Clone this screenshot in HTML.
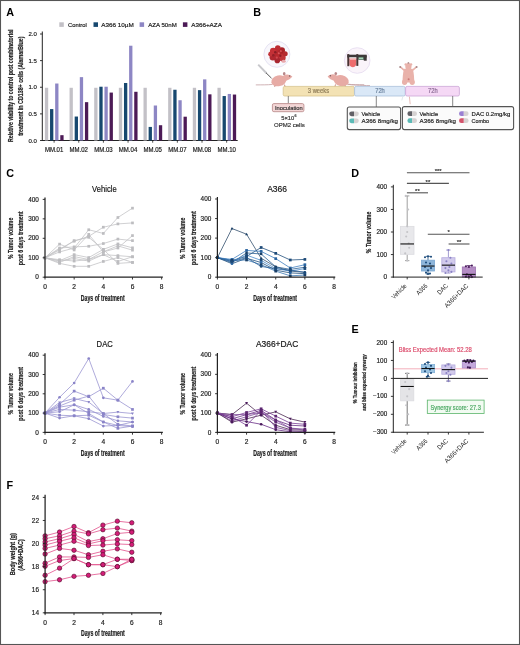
<!DOCTYPE html><html><head><meta charset="utf-8"><style>html,body{margin:0;padding:0;background:#fff;}body{width:520px;height:645px;position:relative;overflow:hidden;font-family:"Liberation Sans", sans-serif;}</style></head><body><svg width="520" height="645" viewBox="0 0 520 645" style="will-change:transform;position:absolute;left:0;top:0;font-family:'Liberation Sans', sans-serif">
<rect x="0" y="0" width="520" height="645" fill="#fff"/>
<text x="6.20" y="15.80" font-size="10.8" text-anchor="start" fill="#000" font-weight="bold">A</text>
<rect x="59.30" y="22.30" width="4.50" height="4.60" fill="#c2c0c6" stroke="none" stroke-width="0" rx="0"/>
<text x="68.00" y="27.00" font-size="6.1" text-anchor="start" fill="#1a1a1a" font-weight="normal" textLength="18.7" lengthAdjust="spacingAndGlyphs" stroke="#1a1a1a" stroke-width="0.18">Control</text>
<rect x="93.50" y="22.30" width="4.50" height="4.60" fill="#17486f" stroke="none" stroke-width="0" rx="0"/>
<text x="101.20" y="27.00" font-size="6.1" text-anchor="start" fill="#1a1a1a" font-weight="normal" textLength="32.6" lengthAdjust="spacingAndGlyphs" stroke="#1a1a1a" stroke-width="0.18">A366 10&#181;M</text>
<rect x="139.60" y="22.30" width="4.50" height="4.60" fill="#8d86c4" stroke="none" stroke-width="0" rx="0"/>
<text x="148.30" y="27.00" font-size="6.1" text-anchor="start" fill="#1a1a1a" font-weight="normal" textLength="28.4" lengthAdjust="spacingAndGlyphs" stroke="#1a1a1a" stroke-width="0.18">AZA 50nM</text>
<rect x="182.90" y="22.30" width="4.50" height="4.60" fill="#4c1a56" stroke="none" stroke-width="0" rx="0"/>
<text x="191.20" y="27.00" font-size="6.1" text-anchor="start" fill="#1a1a1a" font-weight="normal" textLength="30.7" lengthAdjust="spacingAndGlyphs" stroke="#1a1a1a" stroke-width="0.18">A366+AZA</text>
<line x1="42.30" y1="31.50" x2="42.30" y2="141.00" stroke="#222" stroke-width="1.0"/>
<line x1="41.80" y1="140.50" x2="237.70" y2="140.50" stroke="#222" stroke-width="1.0"/>
<line x1="40.00" y1="140.50" x2="42.30" y2="140.50" stroke="#222" stroke-width="0.9"/>
<text x="36.90" y="142.70" font-size="6.0" text-anchor="end" fill="#1a1a1a" font-weight="normal" textLength="8.4" lengthAdjust="spacingAndGlyphs" stroke="#1a1a1a" stroke-width="0.18">0.0</text>
<line x1="40.00" y1="113.88" x2="42.30" y2="113.88" stroke="#222" stroke-width="0.9"/>
<text x="36.90" y="116.08" font-size="6.0" text-anchor="end" fill="#1a1a1a" font-weight="normal" textLength="8.4" lengthAdjust="spacingAndGlyphs" stroke="#1a1a1a" stroke-width="0.18">0.5</text>
<line x1="40.00" y1="87.25" x2="42.30" y2="87.25" stroke="#222" stroke-width="0.9"/>
<text x="36.90" y="89.45" font-size="6.0" text-anchor="end" fill="#1a1a1a" font-weight="normal" textLength="8.4" lengthAdjust="spacingAndGlyphs" stroke="#1a1a1a" stroke-width="0.18">1.0</text>
<line x1="40.00" y1="60.62" x2="42.30" y2="60.62" stroke="#222" stroke-width="0.9"/>
<text x="36.90" y="62.83" font-size="6.0" text-anchor="end" fill="#1a1a1a" font-weight="normal" textLength="8.4" lengthAdjust="spacingAndGlyphs" stroke="#1a1a1a" stroke-width="0.18">1.5</text>
<line x1="40.00" y1="34.00" x2="42.30" y2="34.00" stroke="#222" stroke-width="0.9"/>
<text x="36.90" y="36.20" font-size="6.0" text-anchor="end" fill="#1a1a1a" font-weight="normal" textLength="8.4" lengthAdjust="spacingAndGlyphs" stroke="#1a1a1a" stroke-width="0.18">2.0</text>
<rect x="44.90" y="87.78" width="3.30" height="52.72" fill="#c3c1c7" stroke="none" stroke-width="0" rx="0"/>
<rect x="50.03" y="109.08" width="3.30" height="31.42" fill="#17486f" stroke="none" stroke-width="0" rx="0"/>
<rect x="55.16" y="83.52" width="3.30" height="56.98" fill="#8d86c4" stroke="none" stroke-width="0" rx="0"/>
<rect x="60.29" y="135.18" width="3.30" height="5.33" fill="#4c1a56" stroke="none" stroke-width="0" rx="0"/>
<line x1="54.10" y1="140.50" x2="54.10" y2="142.70" stroke="#222" stroke-width="0.8"/>
<text x="54.10" y="151.80" font-size="6.4" text-anchor="middle" fill="#1a1a1a" font-weight="normal" textLength="18.4" lengthAdjust="spacingAndGlyphs" stroke="#1a1a1a" stroke-width="0.18">MM.01</text>
<rect x="69.55" y="87.78" width="3.30" height="52.72" fill="#c3c1c7" stroke="none" stroke-width="0" rx="0"/>
<rect x="74.68" y="116.54" width="3.30" height="23.96" fill="#17486f" stroke="none" stroke-width="0" rx="0"/>
<rect x="79.81" y="77.13" width="3.30" height="63.37" fill="#8d86c4" stroke="none" stroke-width="0" rx="0"/>
<rect x="84.94" y="102.16" width="3.30" height="38.34" fill="#4c1a56" stroke="none" stroke-width="0" rx="0"/>
<line x1="78.75" y1="140.50" x2="78.75" y2="142.70" stroke="#222" stroke-width="0.8"/>
<text x="78.75" y="151.80" font-size="6.4" text-anchor="middle" fill="#1a1a1a" font-weight="normal" textLength="18.4" lengthAdjust="spacingAndGlyphs" stroke="#1a1a1a" stroke-width="0.18">MM.02</text>
<rect x="94.20" y="87.78" width="3.30" height="52.72" fill="#c3c1c7" stroke="none" stroke-width="0" rx="0"/>
<rect x="99.33" y="86.72" width="3.30" height="53.78" fill="#17486f" stroke="none" stroke-width="0" rx="0"/>
<rect x="104.46" y="86.72" width="3.30" height="53.78" fill="#8d86c4" stroke="none" stroke-width="0" rx="0"/>
<rect x="109.59" y="92.57" width="3.30" height="47.93" fill="#4c1a56" stroke="none" stroke-width="0" rx="0"/>
<line x1="103.40" y1="140.50" x2="103.40" y2="142.70" stroke="#222" stroke-width="0.8"/>
<text x="103.40" y="151.80" font-size="6.4" text-anchor="middle" fill="#1a1a1a" font-weight="normal" textLength="18.4" lengthAdjust="spacingAndGlyphs" stroke="#1a1a1a" stroke-width="0.18">MM.03</text>
<rect x="118.85" y="87.78" width="3.30" height="52.72" fill="#c3c1c7" stroke="none" stroke-width="0" rx="0"/>
<rect x="123.98" y="82.99" width="3.30" height="57.51" fill="#17486f" stroke="none" stroke-width="0" rx="0"/>
<rect x="129.11" y="45.72" width="3.30" height="94.78" fill="#8d86c4" stroke="none" stroke-width="0" rx="0"/>
<rect x="134.24" y="91.78" width="3.30" height="48.72" fill="#4c1a56" stroke="none" stroke-width="0" rx="0"/>
<line x1="128.05" y1="140.50" x2="128.05" y2="142.70" stroke="#222" stroke-width="0.8"/>
<text x="128.05" y="151.80" font-size="6.4" text-anchor="middle" fill="#1a1a1a" font-weight="normal" textLength="18.4" lengthAdjust="spacingAndGlyphs" stroke="#1a1a1a" stroke-width="0.18">MM.04</text>
<rect x="143.50" y="87.78" width="3.30" height="52.72" fill="#c3c1c7" stroke="none" stroke-width="0" rx="0"/>
<rect x="148.63" y="126.92" width="3.30" height="13.58" fill="#17486f" stroke="none" stroke-width="0" rx="0"/>
<rect x="153.76" y="105.51" width="3.30" height="34.99" fill="#8d86c4" stroke="none" stroke-width="0" rx="0"/>
<rect x="158.89" y="125.22" width="3.30" height="15.28" fill="#4c1a56" stroke="none" stroke-width="0" rx="0"/>
<line x1="152.70" y1="140.50" x2="152.70" y2="142.70" stroke="#222" stroke-width="0.8"/>
<text x="152.70" y="151.80" font-size="6.4" text-anchor="middle" fill="#1a1a1a" font-weight="normal" textLength="18.4" lengthAdjust="spacingAndGlyphs" stroke="#1a1a1a" stroke-width="0.18">MM.05</text>
<rect x="168.15" y="87.78" width="3.30" height="52.72" fill="#c3c1c7" stroke="none" stroke-width="0" rx="0"/>
<rect x="173.28" y="89.75" width="3.30" height="50.75" fill="#17486f" stroke="none" stroke-width="0" rx="0"/>
<rect x="178.41" y="100.24" width="3.30" height="40.26" fill="#8d86c4" stroke="none" stroke-width="0" rx="0"/>
<rect x="183.54" y="116.70" width="3.30" height="23.80" fill="#4c1a56" stroke="none" stroke-width="0" rx="0"/>
<line x1="177.35" y1="140.50" x2="177.35" y2="142.70" stroke="#222" stroke-width="0.8"/>
<text x="177.35" y="151.80" font-size="6.4" text-anchor="middle" fill="#1a1a1a" font-weight="normal" textLength="18.4" lengthAdjust="spacingAndGlyphs" stroke="#1a1a1a" stroke-width="0.18">MM.07</text>
<rect x="192.80" y="87.78" width="3.30" height="52.72" fill="#c3c1c7" stroke="none" stroke-width="0" rx="0"/>
<rect x="197.93" y="90.13" width="3.30" height="50.37" fill="#17486f" stroke="none" stroke-width="0" rx="0"/>
<rect x="203.06" y="79.37" width="3.30" height="61.13" fill="#8d86c4" stroke="none" stroke-width="0" rx="0"/>
<rect x="208.19" y="94.33" width="3.30" height="46.17" fill="#4c1a56" stroke="none" stroke-width="0" rx="0"/>
<line x1="202.00" y1="140.50" x2="202.00" y2="142.70" stroke="#222" stroke-width="0.8"/>
<text x="202.00" y="151.80" font-size="6.4" text-anchor="middle" fill="#1a1a1a" font-weight="normal" textLength="18.4" lengthAdjust="spacingAndGlyphs" stroke="#1a1a1a" stroke-width="0.18">MM.08</text>
<rect x="217.45" y="87.78" width="3.30" height="52.72" fill="#c3c1c7" stroke="none" stroke-width="0" rx="0"/>
<rect x="222.58" y="96.04" width="3.30" height="44.46" fill="#17486f" stroke="none" stroke-width="0" rx="0"/>
<rect x="227.71" y="93.96" width="3.30" height="46.54" fill="#8d86c4" stroke="none" stroke-width="0" rx="0"/>
<rect x="232.84" y="94.55" width="3.30" height="45.95" fill="#4c1a56" stroke="none" stroke-width="0" rx="0"/>
<line x1="226.65" y1="140.50" x2="226.65" y2="142.70" stroke="#222" stroke-width="0.8"/>
<text x="226.65" y="151.80" font-size="6.4" text-anchor="middle" fill="#1a1a1a" font-weight="normal" textLength="18.4" lengthAdjust="spacingAndGlyphs" stroke="#1a1a1a" stroke-width="0.18">MM.10</text>
<text transform="translate(12.90,85.75) rotate(-90)" x="0" y="0" font-size="6.9" text-anchor="middle" fill="#222" font-weight="bold" textLength="112.3" lengthAdjust="spacingAndGlyphs" stroke="#222" stroke-width="0.2">Relative viability to control post combinatorial</text>
<text transform="translate(22.60,86.15) rotate(-90)" x="0" y="0" font-size="6.9" text-anchor="middle" fill="#222" font-weight="bold" textLength="99.3" lengthAdjust="spacingAndGlyphs" stroke="#222" stroke-width="0.2">treatment in CD138+ cells (AlamarBlue)</text>
<text x="253.30" y="15.80" font-size="10.8" text-anchor="start" fill="#000" font-weight="bold">B</text>
<circle cx="276.9" cy="54.3" r="13" fill="#f8f7fc" stroke="#e0ddf0" stroke-width="0.8"/>
<circle cx="277.8" cy="54.2" r="6.8" fill="#b8282e"/>
<circle cx="273.3" cy="51.2" r="3.4" fill="#c43036"/>
<circle cx="281.8" cy="50.4" r="3.2" fill="#a82228"/>
<circle cx="272.8" cy="57.2" r="3.2" fill="#b02830"/>
<circle cx="282.3" cy="57.7" r="3.4" fill="#c0343a"/>
<circle cx="277.8" cy="48.0" r="2.8" fill="#bc2c32"/>
<circle cx="277.3" cy="60.4" r="2.8" fill="#a82630"/>
<circle cx="270.6" cy="54.2" r="2.4" fill="#c23238"/>
<circle cx="285.2" cy="53.7" r="2.5" fill="#b42a30"/>
<circle cx="275.3" cy="52.2" r="1.3" fill="#8a1c24"/>
<circle cx="280.3" cy="55.7" r="1.2" fill="#8e1e26"/>
<circle cx="276.8" cy="57.7" r="1.1" fill="#d04a50"/>
<circle cx="280.8" cy="51.2" r="1.1" fill="#d24c52"/>
<circle cx="273.3" cy="55.2" r="1.2" fill="#942028"/>
<circle cx="278.8" cy="53.2" r="1.0" fill="#d8585c"/>
<ellipse cx="283.6" cy="61.2" rx="2.2" ry="1.5" fill="#e8a8ac"/>
<line x1="258.20" y1="64.60" x2="266.50" y2="73.20" stroke="#c8c8cc" stroke-width="2.0"/>
<line x1="266.00" y1="72.80" x2="271.50" y2="78.20" stroke="#555" stroke-width="1.0"/>
<g transform="translate(278.80,80.80) scale(1.00,1.00)">
<path d="M-6.5,3.6 C-11,4.2 -17,4.0 -23,4.1" stroke="#c4a0a2" stroke-width="0.8" fill="none"/>
<ellipse cx="0" cy="0" rx="7.6" ry="5.4" fill="#e7aba5" transform="rotate(-12)"/>
<path d="M3.5,-4.2 C6.5,-7.4 10.5,-6.8 13.6,-4.2 C12.5,-2.4 9.5,-0.6 6,0.6 C4.5,0.8 3,-1.5 3.5,-4.2 Z" fill="#e7aba5"/>
<ellipse cx="5.4" cy="-7.1" rx="1.3" ry="1.6" fill="#b8888a"/>
<circle cx="10.8" cy="-4.9" r="0.75" fill="#7a5a5c"/>
<path d="M5.6,3.8 L6.4,6.2 M-3.8,4.6 L-4.2,6.0" stroke="#d09a94" stroke-width="1.1"/>
</g>
<circle cx="357.2" cy="60.5" r="12.8" fill="#faf4fa" stroke="#e4daf0" stroke-width="0.8"/>
<path d="M349.4,58.6 L356.3,58.6 L356.2,64.6 C355.2,68.2 350.4,68.2 349.5,64.6 Z" fill="#ee6c6e"/>
<rect x="349.40" y="58.40" width="6.90" height="1.60" fill="#f5a8a8" stroke="none" stroke-width="0" rx="0"/>
<rect x="347.30" y="54.10" width="2.00" height="12.10" fill="#4a3434" stroke="none" stroke-width="0" rx="0"/>
<rect x="356.30" y="54.10" width="2.00" height="11.80" fill="#4a3434" stroke="none" stroke-width="0" rx="0"/>
<rect x="347.30" y="54.70" width="19.40" height="2.80" fill="#3e3838" stroke="none" stroke-width="0" rx="0"/>
<rect x="349.30" y="57.40" width="7.00" height="0.90" fill="#e8e8e8" stroke="none" stroke-width="0" rx="0"/>
<rect x="358.30" y="56.90" width="5.60" height="3.00" fill="#3f5a4c" stroke="none" stroke-width="0" rx="0"/>
<rect x="359.00" y="57.50" width="4.20" height="1.80" fill="#a8d4b8" stroke="none" stroke-width="0" rx="0"/>
<rect x="363.80" y="55.50" width="2.90" height="5.20" fill="#3e3838" stroke="none" stroke-width="0" rx="0"/>
<path d="M347,84.0 C352,85.2 360,85.4 370,85.6" stroke="#c4a0a2" stroke-width="0.8" fill="none"/>
<g transform="translate(341.20,80.60) scale(-1.00,1.00)">
<path d="M-6.5,3.6 C-11,4.2 -17,4.0 -23,4.1" stroke="#c4a0a2" stroke-width="0.8" fill="none"/>
<ellipse cx="0" cy="0" rx="7.6" ry="5.4" fill="#e7aba5" transform="rotate(-12)"/>
<path d="M3.5,-4.2 C6.5,-7.4 10.5,-6.8 13.6,-4.2 C12.5,-2.4 9.5,-0.6 6,0.6 C4.5,0.8 3,-1.5 3.5,-4.2 Z" fill="#e7aba5"/>
<ellipse cx="5.4" cy="-7.1" rx="1.3" ry="1.6" fill="#b8888a"/>
<circle cx="10.8" cy="-4.9" r="0.75" fill="#7a5a5c"/>
<path d="M5.6,3.8 L6.4,6.2 M-3.8,4.6 L-4.2,6.0" stroke="#d09a94" stroke-width="1.1"/>
</g>
<rect x="283.20" y="86.40" width="71.20" height="9.60" fill="#f3e2b4" stroke="#d8c48e" stroke-width="0.8" rx="1.5"/>
<rect x="354.60" y="86.40" width="50.60" height="9.60" fill="#dae8f7" stroke="#a9c0da" stroke-width="0.8" rx="1.5"/>
<rect x="405.60" y="86.40" width="53.80" height="9.60" fill="#f5d8f5" stroke="#cca6d6" stroke-width="0.8" rx="1.5"/>
<text x="318.50" y="92.60" font-size="6.3" text-anchor="middle" fill="#8e7c58" font-weight="normal" textLength="21.4" lengthAdjust="spacingAndGlyphs" stroke="#8e7c58" stroke-width="0.18">3 weeks</text>
<text x="380.00" y="92.60" font-size="6.3" text-anchor="middle" fill="#6a829e" font-weight="normal" textLength="9.6" lengthAdjust="spacingAndGlyphs" stroke="#6a829e" stroke-width="0.18">72h</text>
<text x="432.80" y="92.60" font-size="6.3" text-anchor="middle" fill="#8a6a94" font-weight="normal" textLength="9.6" lengthAdjust="spacingAndGlyphs" stroke="#8a6a94" stroke-width="0.18">72h</text>
<g fill="#e9b2aa">
<ellipse cx="408.4" cy="66.4" rx="3.1" ry="3.5"/>
<circle cx="405.7" cy="64.4" r="1.2"/><circle cx="411.1" cy="64.4" r="1.2"/>
<path d="M404.2,68.8 C402.6,73 402.8,78 402.4,82.5 L414.4,82.5 C414,78 414.2,73 412.6,68.8 Z"/>
<ellipse cx="404.6" cy="82.2" rx="2.6" ry="2.8"/><ellipse cx="412.2" cy="82.2" rx="2.6" ry="2.8"/>
</g>
<path d="M404.6,70.6 L400.6,67.2 M412.2,70.6 L416.2,67.2" stroke="#e9b2aa" stroke-width="1.6" stroke-linecap="round" fill="none"/>
<circle cx="400.2" cy="67" r="1.0" fill="#a88888"/><circle cx="416.6" cy="67" r="1.0" fill="#a88888"/>
<circle cx="408.4" cy="62.9" r="0.9" fill="#b09090"/>
<circle cx="408.6" cy="79.2" r="1.0" fill="#cc7a78"/>
<path d="M409.4,96.6 L410.2,104.2" stroke="#e2b4b0" stroke-width="0.9" fill="none"/>
<path d="M402.8,96.6 L401.8,100.4" stroke="#d8e4e4" stroke-width="0.8" fill="none"/>
<line x1="288.30" y1="96.00" x2="288.30" y2="103.60" stroke="#555" stroke-width="0.7"/>
<line x1="376.30" y1="96.00" x2="376.30" y2="107.00" stroke="#555" stroke-width="0.7"/>
<line x1="452.70" y1="96.00" x2="452.70" y2="106.60" stroke="#555" stroke-width="0.7"/>
<rect x="272.40" y="103.60" width="31.50" height="8.10" fill="#f3d6d6" stroke="#bc9090" stroke-width="0.9" rx="1.5"/>
<text x="288.80" y="109.60" font-size="5.8" text-anchor="middle" fill="#333" font-weight="normal" textLength="27.8" lengthAdjust="spacingAndGlyphs" stroke="#333" stroke-width="0.18">Inoculation</text>
<text x="281.30" y="119.50" font-size="5.8" text-anchor="start" fill="#333" font-weight="normal" textLength="13.0" lengthAdjust="spacingAndGlyphs" stroke="#333" stroke-width="0.18">5&#215;10</text>
<text x="294.50" y="116.90" font-size="3.6" text-anchor="start" fill="#333" font-weight="normal" stroke="#333" stroke-width="0.18">6</text>
<text x="289.40" y="126.80" font-size="6.0" text-anchor="middle" fill="#333" font-weight="normal" textLength="30.8" lengthAdjust="spacingAndGlyphs" stroke="#333" stroke-width="0.18">OPM2 cells</text>
<rect x="347.30" y="107.00" width="53.30" height="22.60" fill="#fbfbfb" stroke="#555" stroke-width="1.1" rx="2"/>
<rect x="402.40" y="106.60" width="111.20" height="23.00" fill="#fbfbfb" stroke="#555" stroke-width="1.1" rx="2"/>
<path d="M351.60,111.40 H354.00 V116.20 H351.60 A2.4,2.4 0 0 1 351.60,111.40 Z" fill="#616066"/>
<path d="M354.00,111.40 H356.40 A2.4,2.4 0 0 1 356.40,116.20 H354.00 Z" fill="#d6d2d2"/>
<path d="M351.60,118.40 H354.00 V123.20 H351.60 A2.4,2.4 0 0 1 351.60,118.40 Z" fill="#5bbab6"/>
<path d="M354.00,118.40 H356.40 A2.4,2.4 0 0 1 356.40,123.20 H354.00 Z" fill="#d6d2d2"/>
<text x="361.60" y="116.00" font-size="6.0" text-anchor="start" fill="#1e1e1e" font-weight="normal" textLength="18.5" lengthAdjust="spacingAndGlyphs" stroke="#1e1e1e" stroke-width="0.18">Vehicle</text>
<text x="361.60" y="123.20" font-size="6.0" text-anchor="start" fill="#1e1e1e" font-weight="normal" textLength="36.4" lengthAdjust="spacingAndGlyphs" stroke="#1e1e1e" stroke-width="0.18">A366 8mg/kg</text>
<path d="M409.80,111.30 H412.20 V116.10 H409.80 A2.4,2.4 0 0 1 409.80,111.30 Z" fill="#616066"/>
<path d="M412.20,111.30 H414.60 A2.4,2.4 0 0 1 414.60,116.10 H412.20 Z" fill="#d6d2d2"/>
<path d="M409.80,118.30 H412.20 V123.10 H409.80 A2.4,2.4 0 0 1 409.80,118.30 Z" fill="#5bbab6"/>
<path d="M412.20,118.30 H414.60 A2.4,2.4 0 0 1 414.60,123.10 H412.20 Z" fill="#d6d2d2"/>
<text x="419.60" y="115.90" font-size="6.0" text-anchor="start" fill="#1e1e1e" font-weight="normal" textLength="18.5" lengthAdjust="spacingAndGlyphs" stroke="#1e1e1e" stroke-width="0.18">Vehicle</text>
<text x="419.60" y="123.10" font-size="6.0" text-anchor="start" fill="#1e1e1e" font-weight="normal" textLength="36.4" lengthAdjust="spacingAndGlyphs" stroke="#1e1e1e" stroke-width="0.18">A366 8mg/kg</text>
<path d="M461.40,111.30 H463.80 V116.10 H461.40 A2.4,2.4 0 0 1 461.40,111.30 Z" fill="#9a80d2"/>
<path d="M463.80,111.30 H466.20 A2.4,2.4 0 0 1 466.20,116.10 H463.80 Z" fill="#d6d2d2"/>
<path d="M461.40,118.30 H463.80 V123.10 H461.40 A2.4,2.4 0 0 1 461.40,118.30 Z" fill="#d4546c"/>
<path d="M463.80,118.30 H466.20 A2.4,2.4 0 0 1 466.20,123.10 H463.80 Z" fill="#d6d2d2"/>
<text x="471.60" y="115.90" font-size="6.0" text-anchor="start" fill="#1e1e1e" font-weight="normal" textLength="38.8" lengthAdjust="spacingAndGlyphs" stroke="#1e1e1e" stroke-width="0.18">DAC 0.2mg/kg</text>
<text x="471.60" y="123.10" font-size="6.0" text-anchor="start" fill="#1e1e1e" font-weight="normal" textLength="17.5" lengthAdjust="spacingAndGlyphs" stroke="#1e1e1e" stroke-width="0.18">Combo</text>
<text x="6.30" y="177.30" font-size="10.8" text-anchor="start" fill="#000" font-weight="bold">C</text>
<polyline points="45.00,257.75 59.58,251.91 74.16,248.02 88.74,229.74 103.32,233.44 117.90,217.49 132.48,208.15" fill="none" stroke="#c4c4c6" stroke-width="0.8"/>
<polyline points="45.00,257.75 59.58,249.00 74.16,241.22 88.74,236.35 103.32,227.21 117.90,223.91 132.48,222.93" fill="none" stroke="#c4c4c6" stroke-width="0.8"/>
<polyline points="45.00,257.75 59.58,244.13 74.16,249.97 88.74,234.41 103.32,251.91 117.90,248.02 132.48,235.58" fill="none" stroke="#c4c4c6" stroke-width="0.8"/>
<polyline points="45.00,257.75 59.58,248.02 74.16,246.86 88.74,246.27 103.32,243.55 117.90,239.08 132.48,240.63" fill="none" stroke="#c4c4c6" stroke-width="0.8"/>
<polyline points="45.00,257.75 59.58,260.67 74.16,254.64 88.74,257.56 103.32,249.39 117.90,243.94 132.48,247.83" fill="none" stroke="#c4c4c6" stroke-width="0.8"/>
<polyline points="45.00,257.75 59.58,262.42 74.16,256.58 88.74,259.50 103.32,251.72 117.90,245.89 132.48,250.16" fill="none" stroke="#c4c4c6" stroke-width="0.8"/>
<polyline points="45.00,257.75 59.58,261.06 74.16,258.53 88.74,261.06 103.32,254.64 117.90,255.61 132.48,256.78" fill="none" stroke="#c4c4c6" stroke-width="0.8"/>
<polyline points="45.00,257.75 59.58,263.39 74.16,266.31 88.74,266.31 103.32,261.45 117.90,257.56 132.48,262.42" fill="none" stroke="#c4c4c6" stroke-width="0.8"/>
<polyline points="45.00,257.75 59.58,259.69 74.16,261.06 88.74,259.50 103.32,254.64 117.90,261.45 132.48,256.78" fill="none" stroke="#c4c4c6" stroke-width="0.8"/>
<polyline points="45.00,257.75 59.58,249.97 74.16,240.63 88.74,237.33 103.32,249.39 117.90,263.39 132.48,262.42" fill="none" stroke="#c4c4c6" stroke-width="0.8"/>
<rect x="43.65" y="256.40" width="2.70" height="2.70" fill="#bdbdc0" stroke="none" stroke-width="0" rx="0"/>
<rect x="58.23" y="250.56" width="2.70" height="2.70" fill="#bdbdc0" stroke="none" stroke-width="0" rx="0"/>
<rect x="72.81" y="246.67" width="2.70" height="2.70" fill="#bdbdc0" stroke="none" stroke-width="0" rx="0"/>
<rect x="87.39" y="228.39" width="2.70" height="2.70" fill="#bdbdc0" stroke="none" stroke-width="0" rx="0"/>
<rect x="101.97" y="232.09" width="2.70" height="2.70" fill="#bdbdc0" stroke="none" stroke-width="0" rx="0"/>
<rect x="116.55" y="216.14" width="2.70" height="2.70" fill="#bdbdc0" stroke="none" stroke-width="0" rx="0"/>
<rect x="131.13" y="206.80" width="2.70" height="2.70" fill="#bdbdc0" stroke="none" stroke-width="0" rx="0"/>
<rect x="43.65" y="256.40" width="2.70" height="2.70" fill="#bdbdc0" stroke="none" stroke-width="0" rx="0"/>
<rect x="58.23" y="247.65" width="2.70" height="2.70" fill="#bdbdc0" stroke="none" stroke-width="0" rx="0"/>
<rect x="72.81" y="239.87" width="2.70" height="2.70" fill="#bdbdc0" stroke="none" stroke-width="0" rx="0"/>
<rect x="87.39" y="235.00" width="2.70" height="2.70" fill="#bdbdc0" stroke="none" stroke-width="0" rx="0"/>
<rect x="101.97" y="225.86" width="2.70" height="2.70" fill="#bdbdc0" stroke="none" stroke-width="0" rx="0"/>
<rect x="116.55" y="222.56" width="2.70" height="2.70" fill="#bdbdc0" stroke="none" stroke-width="0" rx="0"/>
<rect x="131.13" y="221.58" width="2.70" height="2.70" fill="#bdbdc0" stroke="none" stroke-width="0" rx="0"/>
<rect x="43.65" y="256.40" width="2.70" height="2.70" fill="#bdbdc0" stroke="none" stroke-width="0" rx="0"/>
<rect x="58.23" y="242.78" width="2.70" height="2.70" fill="#bdbdc0" stroke="none" stroke-width="0" rx="0"/>
<rect x="72.81" y="248.62" width="2.70" height="2.70" fill="#bdbdc0" stroke="none" stroke-width="0" rx="0"/>
<rect x="87.39" y="233.06" width="2.70" height="2.70" fill="#bdbdc0" stroke="none" stroke-width="0" rx="0"/>
<rect x="101.97" y="250.56" width="2.70" height="2.70" fill="#bdbdc0" stroke="none" stroke-width="0" rx="0"/>
<rect x="116.55" y="246.67" width="2.70" height="2.70" fill="#bdbdc0" stroke="none" stroke-width="0" rx="0"/>
<rect x="131.13" y="234.23" width="2.70" height="2.70" fill="#bdbdc0" stroke="none" stroke-width="0" rx="0"/>
<rect x="43.65" y="256.40" width="2.70" height="2.70" fill="#bdbdc0" stroke="none" stroke-width="0" rx="0"/>
<rect x="58.23" y="246.67" width="2.70" height="2.70" fill="#bdbdc0" stroke="none" stroke-width="0" rx="0"/>
<rect x="72.81" y="245.51" width="2.70" height="2.70" fill="#bdbdc0" stroke="none" stroke-width="0" rx="0"/>
<rect x="87.39" y="244.92" width="2.70" height="2.70" fill="#bdbdc0" stroke="none" stroke-width="0" rx="0"/>
<rect x="101.97" y="242.20" width="2.70" height="2.70" fill="#bdbdc0" stroke="none" stroke-width="0" rx="0"/>
<rect x="116.55" y="237.73" width="2.70" height="2.70" fill="#bdbdc0" stroke="none" stroke-width="0" rx="0"/>
<rect x="131.13" y="239.28" width="2.70" height="2.70" fill="#bdbdc0" stroke="none" stroke-width="0" rx="0"/>
<rect x="43.65" y="256.40" width="2.70" height="2.70" fill="#bdbdc0" stroke="none" stroke-width="0" rx="0"/>
<rect x="58.23" y="259.32" width="2.70" height="2.70" fill="#bdbdc0" stroke="none" stroke-width="0" rx="0"/>
<rect x="72.81" y="253.29" width="2.70" height="2.70" fill="#bdbdc0" stroke="none" stroke-width="0" rx="0"/>
<rect x="87.39" y="256.21" width="2.70" height="2.70" fill="#bdbdc0" stroke="none" stroke-width="0" rx="0"/>
<rect x="101.97" y="248.04" width="2.70" height="2.70" fill="#bdbdc0" stroke="none" stroke-width="0" rx="0"/>
<rect x="116.55" y="242.59" width="2.70" height="2.70" fill="#bdbdc0" stroke="none" stroke-width="0" rx="0"/>
<rect x="131.13" y="246.48" width="2.70" height="2.70" fill="#bdbdc0" stroke="none" stroke-width="0" rx="0"/>
<rect x="43.65" y="256.40" width="2.70" height="2.70" fill="#bdbdc0" stroke="none" stroke-width="0" rx="0"/>
<rect x="58.23" y="261.07" width="2.70" height="2.70" fill="#bdbdc0" stroke="none" stroke-width="0" rx="0"/>
<rect x="72.81" y="255.23" width="2.70" height="2.70" fill="#bdbdc0" stroke="none" stroke-width="0" rx="0"/>
<rect x="87.39" y="258.15" width="2.70" height="2.70" fill="#bdbdc0" stroke="none" stroke-width="0" rx="0"/>
<rect x="101.97" y="250.37" width="2.70" height="2.70" fill="#bdbdc0" stroke="none" stroke-width="0" rx="0"/>
<rect x="116.55" y="244.54" width="2.70" height="2.70" fill="#bdbdc0" stroke="none" stroke-width="0" rx="0"/>
<rect x="131.13" y="248.81" width="2.70" height="2.70" fill="#bdbdc0" stroke="none" stroke-width="0" rx="0"/>
<rect x="43.65" y="256.40" width="2.70" height="2.70" fill="#bdbdc0" stroke="none" stroke-width="0" rx="0"/>
<rect x="58.23" y="259.71" width="2.70" height="2.70" fill="#bdbdc0" stroke="none" stroke-width="0" rx="0"/>
<rect x="72.81" y="257.18" width="2.70" height="2.70" fill="#bdbdc0" stroke="none" stroke-width="0" rx="0"/>
<rect x="87.39" y="259.71" width="2.70" height="2.70" fill="#bdbdc0" stroke="none" stroke-width="0" rx="0"/>
<rect x="101.97" y="253.29" width="2.70" height="2.70" fill="#bdbdc0" stroke="none" stroke-width="0" rx="0"/>
<rect x="116.55" y="254.26" width="2.70" height="2.70" fill="#bdbdc0" stroke="none" stroke-width="0" rx="0"/>
<rect x="131.13" y="255.43" width="2.70" height="2.70" fill="#bdbdc0" stroke="none" stroke-width="0" rx="0"/>
<rect x="43.65" y="256.40" width="2.70" height="2.70" fill="#bdbdc0" stroke="none" stroke-width="0" rx="0"/>
<rect x="58.23" y="262.04" width="2.70" height="2.70" fill="#bdbdc0" stroke="none" stroke-width="0" rx="0"/>
<rect x="72.81" y="264.96" width="2.70" height="2.70" fill="#bdbdc0" stroke="none" stroke-width="0" rx="0"/>
<rect x="87.39" y="264.96" width="2.70" height="2.70" fill="#bdbdc0" stroke="none" stroke-width="0" rx="0"/>
<rect x="101.97" y="260.10" width="2.70" height="2.70" fill="#bdbdc0" stroke="none" stroke-width="0" rx="0"/>
<rect x="116.55" y="256.21" width="2.70" height="2.70" fill="#bdbdc0" stroke="none" stroke-width="0" rx="0"/>
<rect x="131.13" y="261.07" width="2.70" height="2.70" fill="#bdbdc0" stroke="none" stroke-width="0" rx="0"/>
<rect x="43.65" y="256.40" width="2.70" height="2.70" fill="#bdbdc0" stroke="none" stroke-width="0" rx="0"/>
<rect x="58.23" y="258.34" width="2.70" height="2.70" fill="#bdbdc0" stroke="none" stroke-width="0" rx="0"/>
<rect x="72.81" y="259.71" width="2.70" height="2.70" fill="#bdbdc0" stroke="none" stroke-width="0" rx="0"/>
<rect x="87.39" y="258.15" width="2.70" height="2.70" fill="#bdbdc0" stroke="none" stroke-width="0" rx="0"/>
<rect x="101.97" y="253.29" width="2.70" height="2.70" fill="#bdbdc0" stroke="none" stroke-width="0" rx="0"/>
<rect x="116.55" y="260.10" width="2.70" height="2.70" fill="#bdbdc0" stroke="none" stroke-width="0" rx="0"/>
<rect x="131.13" y="255.43" width="2.70" height="2.70" fill="#bdbdc0" stroke="none" stroke-width="0" rx="0"/>
<rect x="43.65" y="256.40" width="2.70" height="2.70" fill="#bdbdc0" stroke="none" stroke-width="0" rx="0"/>
<rect x="58.23" y="248.62" width="2.70" height="2.70" fill="#bdbdc0" stroke="none" stroke-width="0" rx="0"/>
<rect x="72.81" y="239.28" width="2.70" height="2.70" fill="#bdbdc0" stroke="none" stroke-width="0" rx="0"/>
<rect x="87.39" y="235.98" width="2.70" height="2.70" fill="#bdbdc0" stroke="none" stroke-width="0" rx="0"/>
<rect x="101.97" y="248.04" width="2.70" height="2.70" fill="#bdbdc0" stroke="none" stroke-width="0" rx="0"/>
<rect x="116.55" y="262.04" width="2.70" height="2.70" fill="#bdbdc0" stroke="none" stroke-width="0" rx="0"/>
<rect x="131.13" y="261.07" width="2.70" height="2.70" fill="#bdbdc0" stroke="none" stroke-width="0" rx="0"/>
<line x1="45.00" y1="197.40" x2="45.00" y2="277.80" stroke="#222" stroke-width="1.25"/>
<line x1="44.40" y1="277.20" x2="162.84" y2="277.20" stroke="#222" stroke-width="1.25"/>
<line x1="42.70" y1="277.20" x2="45.00" y2="277.20" stroke="#222" stroke-width="0.9"/>
<text x="38.90" y="279.30" font-size="6.6" text-anchor="end" fill="#222" font-weight="normal" textLength="3.6" lengthAdjust="spacingAndGlyphs" stroke="#222" stroke-width="0.18">0</text>
<line x1="42.70" y1="257.75" x2="45.00" y2="257.75" stroke="#222" stroke-width="0.9"/>
<text x="38.90" y="259.85" font-size="6.6" text-anchor="end" fill="#222" font-weight="normal" textLength="10.7" lengthAdjust="spacingAndGlyphs" stroke="#222" stroke-width="0.18">100</text>
<line x1="42.70" y1="238.30" x2="45.00" y2="238.30" stroke="#222" stroke-width="0.9"/>
<text x="38.90" y="240.40" font-size="6.6" text-anchor="end" fill="#222" font-weight="normal" textLength="10.7" lengthAdjust="spacingAndGlyphs" stroke="#222" stroke-width="0.18">200</text>
<line x1="42.70" y1="218.85" x2="45.00" y2="218.85" stroke="#222" stroke-width="0.9"/>
<text x="38.90" y="220.95" font-size="6.6" text-anchor="end" fill="#222" font-weight="normal" textLength="10.7" lengthAdjust="spacingAndGlyphs" stroke="#222" stroke-width="0.18">300</text>
<line x1="42.70" y1="199.40" x2="45.00" y2="199.40" stroke="#222" stroke-width="0.9"/>
<text x="38.90" y="201.50" font-size="6.6" text-anchor="end" fill="#222" font-weight="normal" textLength="10.7" lengthAdjust="spacingAndGlyphs" stroke="#222" stroke-width="0.18">400</text>
<line x1="45.00" y1="277.20" x2="45.00" y2="279.50" stroke="#222" stroke-width="0.9"/>
<text x="45.00" y="289.00" font-size="6.6" text-anchor="middle" fill="#222" font-weight="normal" stroke="#222" stroke-width="0.18">0</text>
<line x1="74.16" y1="277.20" x2="74.16" y2="279.50" stroke="#222" stroke-width="0.9"/>
<text x="74.16" y="289.00" font-size="6.6" text-anchor="middle" fill="#222" font-weight="normal" stroke="#222" stroke-width="0.18">2</text>
<line x1="103.32" y1="277.20" x2="103.32" y2="279.50" stroke="#222" stroke-width="0.9"/>
<text x="103.32" y="289.00" font-size="6.6" text-anchor="middle" fill="#222" font-weight="normal" stroke="#222" stroke-width="0.18">4</text>
<line x1="132.48" y1="277.20" x2="132.48" y2="279.50" stroke="#222" stroke-width="0.9"/>
<text x="132.48" y="289.00" font-size="6.6" text-anchor="middle" fill="#222" font-weight="normal" stroke="#222" stroke-width="0.18">6</text>
<line x1="161.64" y1="277.20" x2="161.64" y2="279.50" stroke="#222" stroke-width="0.9"/>
<text x="161.64" y="289.00" font-size="6.6" text-anchor="middle" fill="#222" font-weight="normal" stroke="#222" stroke-width="0.18">8</text>
<text x="104.40" y="191.90" font-size="8.5" text-anchor="middle" fill="#151515" font-weight="normal" textLength="24.6" lengthAdjust="spacingAndGlyphs" stroke="#151515" stroke-width="0.18">Vehicle</text>
<text x="102.72" y="300.60" font-size="8.2" text-anchor="middle" fill="#222" font-weight="bold" textLength="43.9" lengthAdjust="spacingAndGlyphs" stroke="#222" stroke-width="0.2">Days of treatment</text>
<text transform="translate(13.00,238.40) rotate(-90)" x="0" y="0" font-size="6.9" text-anchor="middle" fill="#222" font-weight="bold" textLength="41.4" lengthAdjust="spacingAndGlyphs" stroke="#222" stroke-width="0.2">% Tumor volume</text>
<text transform="translate(23.10,238.30) rotate(-90)" x="0" y="0" font-size="6.9" text-anchor="middle" fill="#222" font-weight="bold" textLength="53.7" lengthAdjust="spacingAndGlyphs" stroke="#222" stroke-width="0.2">post 6 days treatment</text>
<polyline points="217.40,257.65 231.98,228.52 246.56,234.19 261.14,258.24 275.72,266.84 290.30,271.14 304.88,272.31" fill="none" stroke="#34506e" stroke-width="0.8"/>
<polyline points="217.40,257.65 231.98,260.39 246.56,256.48 261.14,247.48 275.72,253.35 290.30,260.00 304.88,259.41" fill="none" stroke="#23507e" stroke-width="0.8"/>
<polyline points="217.40,257.65 231.98,259.41 246.56,250.42 261.14,251.39 275.72,258.63 290.30,268.01 304.88,264.69" fill="none" stroke="#3f7fbf" stroke-width="0.8"/>
<polyline points="217.40,257.65 231.98,262.54 246.56,252.96 261.14,253.94 275.72,266.84 290.30,269.38 304.88,267.23" fill="none" stroke="#2a5f94" stroke-width="0.8"/>
<polyline points="217.40,257.65 231.98,261.56 246.56,255.11 261.14,260.39 275.72,268.60 290.30,271.14 304.88,268.60" fill="none" stroke="#4a8ccc" stroke-width="0.8"/>
<polyline points="217.40,257.65 231.98,263.71 246.56,258.24 261.14,262.54 275.72,270.16 290.30,272.90 304.88,273.68" fill="none" stroke="#1f4f7e" stroke-width="0.8"/>
<polyline points="217.40,257.65 231.98,260.39 246.56,260.00 261.14,264.69 275.72,271.14 290.30,275.83 304.88,275.05" fill="none" stroke="#3b78b4" stroke-width="0.8"/>
<polyline points="217.40,257.65 231.98,261.56 246.56,257.65 261.14,266.45 275.72,268.60 290.30,270.16 304.88,272.31" fill="none" stroke="#2a6098" stroke-width="0.8"/>
<path d="M217.40,256.19 L218.86,258.74 L215.94,258.74 Z" fill="#1a3f66"/>
<path d="M231.98,227.06 L233.44,229.61 L230.52,229.61 Z" fill="#1a3f66"/>
<path d="M246.56,232.73 L248.02,235.28 L245.10,235.28 Z" fill="#1a3f66"/>
<path d="M261.14,256.78 L262.60,259.33 L259.68,259.33 Z" fill="#1a3f66"/>
<path d="M275.72,265.38 L277.18,267.93 L274.26,267.93 Z" fill="#1a3f66"/>
<path d="M290.30,269.68 L291.76,272.23 L288.84,272.23 Z" fill="#1a3f66"/>
<path d="M304.88,270.85 L306.34,273.41 L303.42,273.41 Z" fill="#1a3f66"/>
<rect x="216.05" y="256.30" width="2.70" height="2.70" fill="#1d4a78" stroke="none" stroke-width="0" rx="0"/>
<rect x="230.63" y="259.04" width="2.70" height="2.70" fill="#1d4a78" stroke="none" stroke-width="0" rx="0"/>
<rect x="245.21" y="255.13" width="2.70" height="2.70" fill="#1d4a78" stroke="none" stroke-width="0" rx="0"/>
<rect x="259.79" y="246.13" width="2.70" height="2.70" fill="#1d4a78" stroke="none" stroke-width="0" rx="0"/>
<rect x="274.37" y="252.00" width="2.70" height="2.70" fill="#1d4a78" stroke="none" stroke-width="0" rx="0"/>
<rect x="288.95" y="258.65" width="2.70" height="2.70" fill="#1d4a78" stroke="none" stroke-width="0" rx="0"/>
<rect x="303.53" y="258.06" width="2.70" height="2.70" fill="#1d4a78" stroke="none" stroke-width="0" rx="0"/>
<rect x="216.05" y="256.30" width="2.70" height="2.70" fill="#2a64a0" stroke="none" stroke-width="0" rx="0"/>
<rect x="230.63" y="258.06" width="2.70" height="2.70" fill="#2a64a0" stroke="none" stroke-width="0" rx="0"/>
<rect x="245.21" y="249.07" width="2.70" height="2.70" fill="#2a64a0" stroke="none" stroke-width="0" rx="0"/>
<rect x="259.79" y="250.04" width="2.70" height="2.70" fill="#2a64a0" stroke="none" stroke-width="0" rx="0"/>
<rect x="274.37" y="257.28" width="2.70" height="2.70" fill="#2a64a0" stroke="none" stroke-width="0" rx="0"/>
<rect x="288.95" y="266.66" width="2.70" height="2.70" fill="#2a64a0" stroke="none" stroke-width="0" rx="0"/>
<rect x="303.53" y="263.34" width="2.70" height="2.70" fill="#2a64a0" stroke="none" stroke-width="0" rx="0"/>
<circle cx="217.40" cy="257.65" r="1.35" fill="#1a3f66"/>
<circle cx="231.98" cy="262.54" r="1.35" fill="#1a3f66"/>
<circle cx="246.56" cy="252.96" r="1.35" fill="#1a3f66"/>
<circle cx="261.14" cy="253.94" r="1.35" fill="#1a3f66"/>
<circle cx="275.72" cy="266.84" r="1.35" fill="#1a3f66"/>
<circle cx="290.30" cy="269.38" r="1.35" fill="#1a3f66"/>
<circle cx="304.88" cy="267.23" r="1.35" fill="#1a3f66"/>
<rect x="216.05" y="256.30" width="2.70" height="2.70" fill="#1d4a78" stroke="none" stroke-width="0" rx="0"/>
<rect x="230.63" y="260.21" width="2.70" height="2.70" fill="#1d4a78" stroke="none" stroke-width="0" rx="0"/>
<rect x="245.21" y="253.76" width="2.70" height="2.70" fill="#1d4a78" stroke="none" stroke-width="0" rx="0"/>
<rect x="259.79" y="259.04" width="2.70" height="2.70" fill="#1d4a78" stroke="none" stroke-width="0" rx="0"/>
<rect x="274.37" y="267.25" width="2.70" height="2.70" fill="#1d4a78" stroke="none" stroke-width="0" rx="0"/>
<rect x="288.95" y="269.79" width="2.70" height="2.70" fill="#1d4a78" stroke="none" stroke-width="0" rx="0"/>
<rect x="303.53" y="267.25" width="2.70" height="2.70" fill="#1d4a78" stroke="none" stroke-width="0" rx="0"/>
<circle cx="217.40" cy="257.65" r="1.35" fill="#2a64a0"/>
<circle cx="231.98" cy="263.71" r="1.35" fill="#2a64a0"/>
<circle cx="246.56" cy="258.24" r="1.35" fill="#2a64a0"/>
<circle cx="261.14" cy="262.54" r="1.35" fill="#2a64a0"/>
<circle cx="275.72" cy="270.16" r="1.35" fill="#2a64a0"/>
<circle cx="290.30" cy="272.90" r="1.35" fill="#2a64a0"/>
<circle cx="304.88" cy="273.68" r="1.35" fill="#2a64a0"/>
<rect x="216.05" y="256.30" width="2.70" height="2.70" fill="#1a3f66" stroke="none" stroke-width="0" rx="0"/>
<rect x="230.63" y="259.04" width="2.70" height="2.70" fill="#1a3f66" stroke="none" stroke-width="0" rx="0"/>
<rect x="245.21" y="258.65" width="2.70" height="2.70" fill="#1a3f66" stroke="none" stroke-width="0" rx="0"/>
<rect x="259.79" y="263.34" width="2.70" height="2.70" fill="#1a3f66" stroke="none" stroke-width="0" rx="0"/>
<rect x="274.37" y="269.79" width="2.70" height="2.70" fill="#1a3f66" stroke="none" stroke-width="0" rx="0"/>
<rect x="288.95" y="274.48" width="2.70" height="2.70" fill="#1a3f66" stroke="none" stroke-width="0" rx="0"/>
<rect x="303.53" y="273.70" width="2.70" height="2.70" fill="#1a3f66" stroke="none" stroke-width="0" rx="0"/>
<circle cx="217.40" cy="257.65" r="1.35" fill="#1d4a78"/>
<circle cx="231.98" cy="261.56" r="1.35" fill="#1d4a78"/>
<circle cx="246.56" cy="257.65" r="1.35" fill="#1d4a78"/>
<circle cx="261.14" cy="266.45" r="1.35" fill="#1d4a78"/>
<circle cx="275.72" cy="268.60" r="1.35" fill="#1d4a78"/>
<circle cx="290.30" cy="270.16" r="1.35" fill="#1d4a78"/>
<circle cx="304.88" cy="272.31" r="1.35" fill="#1d4a78"/>
<line x1="217.40" y1="197.00" x2="217.40" y2="277.80" stroke="#222" stroke-width="1.25"/>
<line x1="216.80" y1="277.20" x2="335.24" y2="277.20" stroke="#222" stroke-width="1.25"/>
<line x1="215.10" y1="277.20" x2="217.40" y2="277.20" stroke="#222" stroke-width="0.9"/>
<text x="211.30" y="279.30" font-size="6.6" text-anchor="end" fill="#222" font-weight="normal" textLength="3.6" lengthAdjust="spacingAndGlyphs" stroke="#222" stroke-width="0.18">0</text>
<line x1="215.10" y1="257.65" x2="217.40" y2="257.65" stroke="#222" stroke-width="0.9"/>
<text x="211.30" y="259.75" font-size="6.6" text-anchor="end" fill="#222" font-weight="normal" textLength="10.7" lengthAdjust="spacingAndGlyphs" stroke="#222" stroke-width="0.18">100</text>
<line x1="215.10" y1="238.10" x2="217.40" y2="238.10" stroke="#222" stroke-width="0.9"/>
<text x="211.30" y="240.20" font-size="6.6" text-anchor="end" fill="#222" font-weight="normal" textLength="10.7" lengthAdjust="spacingAndGlyphs" stroke="#222" stroke-width="0.18">200</text>
<line x1="215.10" y1="218.55" x2="217.40" y2="218.55" stroke="#222" stroke-width="0.9"/>
<text x="211.30" y="220.65" font-size="6.6" text-anchor="end" fill="#222" font-weight="normal" textLength="10.7" lengthAdjust="spacingAndGlyphs" stroke="#222" stroke-width="0.18">300</text>
<line x1="215.10" y1="199.00" x2="217.40" y2="199.00" stroke="#222" stroke-width="0.9"/>
<text x="211.30" y="201.10" font-size="6.6" text-anchor="end" fill="#222" font-weight="normal" textLength="10.7" lengthAdjust="spacingAndGlyphs" stroke="#222" stroke-width="0.18">400</text>
<line x1="217.40" y1="277.20" x2="217.40" y2="279.50" stroke="#222" stroke-width="0.9"/>
<text x="217.40" y="289.00" font-size="6.6" text-anchor="middle" fill="#222" font-weight="normal" stroke="#222" stroke-width="0.18">0</text>
<line x1="246.56" y1="277.20" x2="246.56" y2="279.50" stroke="#222" stroke-width="0.9"/>
<text x="246.56" y="289.00" font-size="6.6" text-anchor="middle" fill="#222" font-weight="normal" stroke="#222" stroke-width="0.18">2</text>
<line x1="275.72" y1="277.20" x2="275.72" y2="279.50" stroke="#222" stroke-width="0.9"/>
<text x="275.72" y="289.00" font-size="6.6" text-anchor="middle" fill="#222" font-weight="normal" stroke="#222" stroke-width="0.18">4</text>
<line x1="304.88" y1="277.20" x2="304.88" y2="279.50" stroke="#222" stroke-width="0.9"/>
<text x="304.88" y="289.00" font-size="6.6" text-anchor="middle" fill="#222" font-weight="normal" stroke="#222" stroke-width="0.18">6</text>
<line x1="334.04" y1="277.20" x2="334.04" y2="279.50" stroke="#222" stroke-width="0.9"/>
<text x="334.04" y="289.00" font-size="6.6" text-anchor="middle" fill="#222" font-weight="normal" stroke="#222" stroke-width="0.18">8</text>
<text x="277.10" y="191.70" font-size="8.5" text-anchor="middle" fill="#151515" font-weight="normal" textLength="19.9" lengthAdjust="spacingAndGlyphs" stroke="#151515" stroke-width="0.18">A366</text>
<text x="275.12" y="300.60" font-size="8.2" text-anchor="middle" fill="#222" font-weight="bold" textLength="43.9" lengthAdjust="spacingAndGlyphs" stroke="#222" stroke-width="0.2">Days of treatment</text>
<text transform="translate(185.40,238.20) rotate(-90)" x="0" y="0" font-size="6.9" text-anchor="middle" fill="#222" font-weight="bold" textLength="41.4" lengthAdjust="spacingAndGlyphs" stroke="#222" stroke-width="0.2">% Tumor volume</text>
<text transform="translate(195.50,238.10) rotate(-90)" x="0" y="0" font-size="6.9" text-anchor="middle" fill="#222" font-weight="bold" textLength="53.7" lengthAdjust="spacingAndGlyphs" stroke="#222" stroke-width="0.2">post 6 days treatment</text>
<polyline points="45.00,413.10 59.58,397.27 74.16,382.99 88.74,358.48 103.32,397.85 117.90,400.17 132.48,381.45" fill="none" stroke="#9a95d2" stroke-width="0.8"/>
<polyline points="45.00,413.10 59.58,404.41 74.16,391.10 88.74,396.69 103.32,388.20 117.90,400.17 132.48,409.43" fill="none" stroke="#9a95d2" stroke-width="0.8"/>
<polyline points="45.00,413.10 59.58,402.48 74.16,398.43 88.74,402.10 103.32,413.49 117.90,412.13 132.48,413.49" fill="none" stroke="#9a95d2" stroke-width="0.8"/>
<polyline points="45.00,413.10 59.58,405.96 74.16,400.17 88.74,396.12 103.32,414.45 117.90,416.77 132.48,418.12" fill="none" stroke="#9a95d2" stroke-width="0.8"/>
<polyline points="45.00,413.10 59.58,407.12 74.16,404.80 88.74,409.43 103.32,416.38 117.90,420.82 132.48,421.98" fill="none" stroke="#9a95d2" stroke-width="0.8"/>
<polyline points="45.00,413.10 59.58,409.43 74.16,410.20 88.74,411.75 103.32,413.49 117.90,424.29 132.48,426.03" fill="none" stroke="#9a95d2" stroke-width="0.8"/>
<polyline points="45.00,413.10 59.58,411.75 74.16,404.80 88.74,413.49 103.32,421.98 117.90,425.45 132.48,426.61" fill="none" stroke="#9a95d2" stroke-width="0.8"/>
<polyline points="45.00,413.10 59.58,415.22 74.16,415.80 88.74,415.22 103.32,421.98 117.90,428.35 132.48,426.03" fill="none" stroke="#9a95d2" stroke-width="0.8"/>
<polyline points="45.00,413.10 59.58,418.12 74.16,415.80 88.74,418.70 103.32,426.03 117.90,425.45 132.48,421.98" fill="none" stroke="#9a95d2" stroke-width="0.8"/>
<circle cx="45.00" cy="413.10" r="1.35" fill="#8a84c8"/>
<circle cx="59.58" cy="397.27" r="1.35" fill="#8a84c8"/>
<circle cx="74.16" cy="382.99" r="1.35" fill="#8a84c8"/>
<circle cx="88.74" cy="358.48" r="1.35" fill="#8a84c8"/>
<circle cx="103.32" cy="397.85" r="1.35" fill="#8a84c8"/>
<circle cx="117.90" cy="400.17" r="1.35" fill="#8a84c8"/>
<circle cx="132.48" cy="381.45" r="1.35" fill="#8a84c8"/>
<rect x="43.65" y="411.75" width="2.70" height="2.70" fill="#8a84c8" stroke="none" stroke-width="0" rx="0"/>
<rect x="58.23" y="403.06" width="2.70" height="2.70" fill="#8a84c8" stroke="none" stroke-width="0" rx="0"/>
<rect x="72.81" y="389.75" width="2.70" height="2.70" fill="#8a84c8" stroke="none" stroke-width="0" rx="0"/>
<rect x="87.39" y="395.34" width="2.70" height="2.70" fill="#8a84c8" stroke="none" stroke-width="0" rx="0"/>
<rect x="101.97" y="386.85" width="2.70" height="2.70" fill="#8a84c8" stroke="none" stroke-width="0" rx="0"/>
<rect x="116.55" y="398.82" width="2.70" height="2.70" fill="#8a84c8" stroke="none" stroke-width="0" rx="0"/>
<rect x="131.13" y="408.08" width="2.70" height="2.70" fill="#8a84c8" stroke="none" stroke-width="0" rx="0"/>
<path d="M45.00,414.56 L46.46,412.01 L43.54,412.01 Z" fill="#8a84c8"/>
<path d="M59.58,403.94 L61.04,401.39 L58.12,401.39 Z" fill="#8a84c8"/>
<path d="M74.16,399.89 L75.62,397.34 L72.70,397.34 Z" fill="#8a84c8"/>
<path d="M88.74,403.56 L90.20,401.01 L87.28,401.01 Z" fill="#8a84c8"/>
<path d="M103.32,414.94 L104.78,412.39 L101.86,412.39 Z" fill="#8a84c8"/>
<path d="M117.90,413.59 L119.36,411.04 L116.44,411.04 Z" fill="#8a84c8"/>
<path d="M132.48,414.94 L133.94,412.39 L131.02,412.39 Z" fill="#8a84c8"/>
<rect x="43.65" y="411.75" width="2.70" height="2.70" fill="#8a84c8" stroke="none" stroke-width="0" rx="0"/>
<rect x="58.23" y="404.61" width="2.70" height="2.70" fill="#8a84c8" stroke="none" stroke-width="0" rx="0"/>
<rect x="72.81" y="398.82" width="2.70" height="2.70" fill="#8a84c8" stroke="none" stroke-width="0" rx="0"/>
<rect x="87.39" y="394.77" width="2.70" height="2.70" fill="#8a84c8" stroke="none" stroke-width="0" rx="0"/>
<rect x="101.97" y="413.10" width="2.70" height="2.70" fill="#8a84c8" stroke="none" stroke-width="0" rx="0"/>
<rect x="116.55" y="415.42" width="2.70" height="2.70" fill="#8a84c8" stroke="none" stroke-width="0" rx="0"/>
<rect x="131.13" y="416.77" width="2.70" height="2.70" fill="#8a84c8" stroke="none" stroke-width="0" rx="0"/>
<circle cx="45.00" cy="413.10" r="1.35" fill="#8a84c8"/>
<circle cx="59.58" cy="407.12" r="1.35" fill="#8a84c8"/>
<circle cx="74.16" cy="404.80" r="1.35" fill="#8a84c8"/>
<circle cx="88.74" cy="409.43" r="1.35" fill="#8a84c8"/>
<circle cx="103.32" cy="416.38" r="1.35" fill="#8a84c8"/>
<circle cx="117.90" cy="420.82" r="1.35" fill="#8a84c8"/>
<circle cx="132.48" cy="421.98" r="1.35" fill="#8a84c8"/>
<rect x="43.65" y="411.75" width="2.70" height="2.70" fill="#8a84c8" stroke="none" stroke-width="0" rx="0"/>
<rect x="58.23" y="408.08" width="2.70" height="2.70" fill="#8a84c8" stroke="none" stroke-width="0" rx="0"/>
<rect x="72.81" y="408.85" width="2.70" height="2.70" fill="#8a84c8" stroke="none" stroke-width="0" rx="0"/>
<rect x="87.39" y="410.40" width="2.70" height="2.70" fill="#8a84c8" stroke="none" stroke-width="0" rx="0"/>
<rect x="101.97" y="412.14" width="2.70" height="2.70" fill="#8a84c8" stroke="none" stroke-width="0" rx="0"/>
<rect x="116.55" y="422.94" width="2.70" height="2.70" fill="#8a84c8" stroke="none" stroke-width="0" rx="0"/>
<rect x="131.13" y="424.68" width="2.70" height="2.70" fill="#8a84c8" stroke="none" stroke-width="0" rx="0"/>
<circle cx="45.00" cy="413.10" r="1.35" fill="#8a84c8"/>
<circle cx="59.58" cy="411.75" r="1.35" fill="#8a84c8"/>
<circle cx="74.16" cy="404.80" r="1.35" fill="#8a84c8"/>
<circle cx="88.74" cy="413.49" r="1.35" fill="#8a84c8"/>
<circle cx="103.32" cy="421.98" r="1.35" fill="#8a84c8"/>
<circle cx="117.90" cy="425.45" r="1.35" fill="#8a84c8"/>
<circle cx="132.48" cy="426.61" r="1.35" fill="#8a84c8"/>
<rect x="43.65" y="411.75" width="2.70" height="2.70" fill="#8a84c8" stroke="none" stroke-width="0" rx="0"/>
<rect x="58.23" y="413.87" width="2.70" height="2.70" fill="#8a84c8" stroke="none" stroke-width="0" rx="0"/>
<rect x="72.81" y="414.45" width="2.70" height="2.70" fill="#8a84c8" stroke="none" stroke-width="0" rx="0"/>
<rect x="87.39" y="413.87" width="2.70" height="2.70" fill="#8a84c8" stroke="none" stroke-width="0" rx="0"/>
<rect x="101.97" y="420.63" width="2.70" height="2.70" fill="#8a84c8" stroke="none" stroke-width="0" rx="0"/>
<rect x="116.55" y="427.00" width="2.70" height="2.70" fill="#8a84c8" stroke="none" stroke-width="0" rx="0"/>
<rect x="131.13" y="424.68" width="2.70" height="2.70" fill="#8a84c8" stroke="none" stroke-width="0" rx="0"/>
<circle cx="45.00" cy="413.10" r="1.35" fill="#8a84c8"/>
<circle cx="59.58" cy="418.12" r="1.35" fill="#8a84c8"/>
<circle cx="74.16" cy="415.80" r="1.35" fill="#8a84c8"/>
<circle cx="88.74" cy="418.70" r="1.35" fill="#8a84c8"/>
<circle cx="103.32" cy="426.03" r="1.35" fill="#8a84c8"/>
<circle cx="117.90" cy="425.45" r="1.35" fill="#8a84c8"/>
<circle cx="132.48" cy="421.98" r="1.35" fill="#8a84c8"/>
<line x1="45.00" y1="353.20" x2="45.00" y2="433.00" stroke="#222" stroke-width="1.25"/>
<line x1="44.40" y1="432.40" x2="162.84" y2="432.40" stroke="#222" stroke-width="1.25"/>
<line x1="42.70" y1="432.40" x2="45.00" y2="432.40" stroke="#222" stroke-width="0.9"/>
<text x="38.90" y="434.50" font-size="6.6" text-anchor="end" fill="#222" font-weight="normal" textLength="3.6" lengthAdjust="spacingAndGlyphs" stroke="#222" stroke-width="0.18">0</text>
<line x1="42.70" y1="413.10" x2="45.00" y2="413.10" stroke="#222" stroke-width="0.9"/>
<text x="38.90" y="415.20" font-size="6.6" text-anchor="end" fill="#222" font-weight="normal" textLength="10.7" lengthAdjust="spacingAndGlyphs" stroke="#222" stroke-width="0.18">100</text>
<line x1="42.70" y1="393.80" x2="45.00" y2="393.80" stroke="#222" stroke-width="0.9"/>
<text x="38.90" y="395.90" font-size="6.6" text-anchor="end" fill="#222" font-weight="normal" textLength="10.7" lengthAdjust="spacingAndGlyphs" stroke="#222" stroke-width="0.18">200</text>
<line x1="42.70" y1="374.50" x2="45.00" y2="374.50" stroke="#222" stroke-width="0.9"/>
<text x="38.90" y="376.60" font-size="6.6" text-anchor="end" fill="#222" font-weight="normal" textLength="10.7" lengthAdjust="spacingAndGlyphs" stroke="#222" stroke-width="0.18">300</text>
<line x1="42.70" y1="355.20" x2="45.00" y2="355.20" stroke="#222" stroke-width="0.9"/>
<text x="38.90" y="357.30" font-size="6.6" text-anchor="end" fill="#222" font-weight="normal" textLength="10.7" lengthAdjust="spacingAndGlyphs" stroke="#222" stroke-width="0.18">400</text>
<line x1="45.00" y1="432.40" x2="45.00" y2="434.70" stroke="#222" stroke-width="0.9"/>
<text x="45.00" y="444.20" font-size="6.6" text-anchor="middle" fill="#222" font-weight="normal" stroke="#222" stroke-width="0.18">0</text>
<line x1="74.16" y1="432.40" x2="74.16" y2="434.70" stroke="#222" stroke-width="0.9"/>
<text x="74.16" y="444.20" font-size="6.6" text-anchor="middle" fill="#222" font-weight="normal" stroke="#222" stroke-width="0.18">2</text>
<line x1="103.32" y1="432.40" x2="103.32" y2="434.70" stroke="#222" stroke-width="0.9"/>
<text x="103.32" y="444.20" font-size="6.6" text-anchor="middle" fill="#222" font-weight="normal" stroke="#222" stroke-width="0.18">4</text>
<line x1="132.48" y1="432.40" x2="132.48" y2="434.70" stroke="#222" stroke-width="0.9"/>
<text x="132.48" y="444.20" font-size="6.6" text-anchor="middle" fill="#222" font-weight="normal" stroke="#222" stroke-width="0.18">6</text>
<line x1="161.64" y1="432.40" x2="161.64" y2="434.70" stroke="#222" stroke-width="0.9"/>
<text x="161.64" y="444.20" font-size="6.6" text-anchor="middle" fill="#222" font-weight="normal" stroke="#222" stroke-width="0.18">8</text>
<text x="104.70" y="347.00" font-size="8.5" text-anchor="middle" fill="#151515" font-weight="normal" textLength="16.2" lengthAdjust="spacingAndGlyphs" stroke="#151515" stroke-width="0.18">DAC</text>
<text x="102.72" y="455.80" font-size="8.2" text-anchor="middle" fill="#222" font-weight="bold" textLength="43.9" lengthAdjust="spacingAndGlyphs" stroke="#222" stroke-width="0.2">Days of treatment</text>
<text transform="translate(13.00,393.90) rotate(-90)" x="0" y="0" font-size="6.9" text-anchor="middle" fill="#222" font-weight="bold" textLength="41.4" lengthAdjust="spacingAndGlyphs" stroke="#222" stroke-width="0.2">% Tumor volume</text>
<text transform="translate(23.10,393.80) rotate(-90)" x="0" y="0" font-size="6.9" text-anchor="middle" fill="#222" font-weight="bold" textLength="53.7" lengthAdjust="spacingAndGlyphs" stroke="#222" stroke-width="0.2">post 6 days treatment</text>
<polyline points="217.40,413.05 231.98,414.60 246.56,403.18 261.14,415.18 275.72,411.89 290.30,418.85 304.88,422.14" fill="none" stroke="#4a2850" stroke-width="0.8"/>
<polyline points="217.40,413.05 231.98,416.73 246.56,412.47 261.14,408.79 275.72,416.15 290.30,423.11 304.88,424.27" fill="none" stroke="#7a3e96" stroke-width="0.8"/>
<polyline points="217.40,413.05 231.98,418.85 246.56,414.60 261.14,410.34 275.72,420.02 290.30,425.24 304.88,426.01" fill="none" stroke="#6a2e86" stroke-width="0.8"/>
<polyline points="217.40,413.05 231.98,420.98 246.56,416.73 261.14,412.47 275.72,422.14 290.30,428.14 304.88,429.11" fill="none" stroke="#7e4a98" stroke-width="0.8"/>
<polyline points="217.40,413.05 231.98,422.14 246.56,418.85 261.14,415.18 275.72,425.24 290.30,429.69 304.88,430.27" fill="none" stroke="#4a2850" stroke-width="0.8"/>
<polyline points="217.40,413.05 231.98,416.73 246.56,425.24 261.14,410.34 275.72,427.37 290.30,430.66 304.88,431.82" fill="none" stroke="#7a3e96" stroke-width="0.8"/>
<polyline points="217.40,413.05 231.98,418.85 246.56,421.56 261.14,424.27 275.72,429.69 290.30,431.82 304.88,432.40" fill="none" stroke="#6a2e86" stroke-width="0.8"/>
<polyline points="217.40,413.05 231.98,414.60 246.56,414.60 261.14,412.47 275.72,420.02 290.30,428.14 304.88,430.27" fill="none" stroke="#7e4a98" stroke-width="0.8"/>
<path d="M217.40,414.51 L218.86,411.96 L215.94,411.96 Z" fill="#4a1a5c"/>
<path d="M231.98,416.06 L233.44,413.50 L230.52,413.50 Z" fill="#4a1a5c"/>
<path d="M246.56,404.64 L248.02,402.09 L245.10,402.09 Z" fill="#4a1a5c"/>
<path d="M261.14,416.64 L262.60,414.08 L259.68,414.08 Z" fill="#4a1a5c"/>
<path d="M275.72,413.35 L277.18,410.80 L274.26,410.80 Z" fill="#4a1a5c"/>
<path d="M290.30,420.31 L291.76,417.76 L288.84,417.76 Z" fill="#4a1a5c"/>
<path d="M304.88,423.60 L306.34,421.05 L303.42,421.05 Z" fill="#4a1a5c"/>
<rect x="216.05" y="411.70" width="2.70" height="2.70" fill="#5c2670" stroke="none" stroke-width="0" rx="0"/>
<rect x="230.63" y="415.38" width="2.70" height="2.70" fill="#5c2670" stroke="none" stroke-width="0" rx="0"/>
<rect x="245.21" y="411.12" width="2.70" height="2.70" fill="#5c2670" stroke="none" stroke-width="0" rx="0"/>
<rect x="259.79" y="407.44" width="2.70" height="2.70" fill="#5c2670" stroke="none" stroke-width="0" rx="0"/>
<rect x="274.37" y="414.80" width="2.70" height="2.70" fill="#5c2670" stroke="none" stroke-width="0" rx="0"/>
<rect x="288.95" y="421.76" width="2.70" height="2.70" fill="#5c2670" stroke="none" stroke-width="0" rx="0"/>
<rect x="303.53" y="422.92" width="2.70" height="2.70" fill="#5c2670" stroke="none" stroke-width="0" rx="0"/>
<circle cx="217.40" cy="413.05" r="1.35" fill="#4a1a5c"/>
<circle cx="231.98" cy="418.85" r="1.35" fill="#4a1a5c"/>
<circle cx="246.56" cy="414.60" r="1.35" fill="#4a1a5c"/>
<circle cx="261.14" cy="410.34" r="1.35" fill="#4a1a5c"/>
<circle cx="275.72" cy="420.02" r="1.35" fill="#4a1a5c"/>
<circle cx="290.30" cy="425.24" r="1.35" fill="#4a1a5c"/>
<circle cx="304.88" cy="426.01" r="1.35" fill="#4a1a5c"/>
<rect x="216.05" y="411.70" width="2.70" height="2.70" fill="#5c2670" stroke="none" stroke-width="0" rx="0"/>
<rect x="230.63" y="419.63" width="2.70" height="2.70" fill="#5c2670" stroke="none" stroke-width="0" rx="0"/>
<rect x="245.21" y="415.38" width="2.70" height="2.70" fill="#5c2670" stroke="none" stroke-width="0" rx="0"/>
<rect x="259.79" y="411.12" width="2.70" height="2.70" fill="#5c2670" stroke="none" stroke-width="0" rx="0"/>
<rect x="274.37" y="420.79" width="2.70" height="2.70" fill="#5c2670" stroke="none" stroke-width="0" rx="0"/>
<rect x="288.95" y="426.79" width="2.70" height="2.70" fill="#5c2670" stroke="none" stroke-width="0" rx="0"/>
<rect x="303.53" y="427.76" width="2.70" height="2.70" fill="#5c2670" stroke="none" stroke-width="0" rx="0"/>
<circle cx="217.40" cy="413.05" r="1.35" fill="#4a1a5c"/>
<circle cx="231.98" cy="422.14" r="1.35" fill="#4a1a5c"/>
<circle cx="246.56" cy="418.85" r="1.35" fill="#4a1a5c"/>
<circle cx="261.14" cy="415.18" r="1.35" fill="#4a1a5c"/>
<circle cx="275.72" cy="425.24" r="1.35" fill="#4a1a5c"/>
<circle cx="290.30" cy="429.69" r="1.35" fill="#4a1a5c"/>
<circle cx="304.88" cy="430.27" r="1.35" fill="#4a1a5c"/>
<rect x="216.05" y="411.70" width="2.70" height="2.70" fill="#5c2670" stroke="none" stroke-width="0" rx="0"/>
<rect x="230.63" y="415.38" width="2.70" height="2.70" fill="#5c2670" stroke="none" stroke-width="0" rx="0"/>
<rect x="245.21" y="423.89" width="2.70" height="2.70" fill="#5c2670" stroke="none" stroke-width="0" rx="0"/>
<rect x="259.79" y="408.99" width="2.70" height="2.70" fill="#5c2670" stroke="none" stroke-width="0" rx="0"/>
<rect x="274.37" y="426.02" width="2.70" height="2.70" fill="#5c2670" stroke="none" stroke-width="0" rx="0"/>
<rect x="288.95" y="429.31" width="2.70" height="2.70" fill="#5c2670" stroke="none" stroke-width="0" rx="0"/>
<rect x="303.53" y="430.47" width="2.70" height="2.70" fill="#5c2670" stroke="none" stroke-width="0" rx="0"/>
<circle cx="217.40" cy="413.05" r="1.35" fill="#4a1a5c"/>
<circle cx="231.98" cy="418.85" r="1.35" fill="#4a1a5c"/>
<circle cx="246.56" cy="421.56" r="1.35" fill="#4a1a5c"/>
<circle cx="261.14" cy="424.27" r="1.35" fill="#4a1a5c"/>
<circle cx="275.72" cy="429.69" r="1.35" fill="#4a1a5c"/>
<circle cx="290.30" cy="431.82" r="1.35" fill="#4a1a5c"/>
<circle cx="304.88" cy="432.40" r="1.35" fill="#4a1a5c"/>
<rect x="216.05" y="411.70" width="2.70" height="2.70" fill="#5c2670" stroke="none" stroke-width="0" rx="0"/>
<rect x="230.63" y="413.25" width="2.70" height="2.70" fill="#5c2670" stroke="none" stroke-width="0" rx="0"/>
<rect x="245.21" y="413.25" width="2.70" height="2.70" fill="#5c2670" stroke="none" stroke-width="0" rx="0"/>
<rect x="259.79" y="411.12" width="2.70" height="2.70" fill="#5c2670" stroke="none" stroke-width="0" rx="0"/>
<rect x="274.37" y="418.67" width="2.70" height="2.70" fill="#5c2670" stroke="none" stroke-width="0" rx="0"/>
<rect x="288.95" y="426.79" width="2.70" height="2.70" fill="#5c2670" stroke="none" stroke-width="0" rx="0"/>
<rect x="303.53" y="428.92" width="2.70" height="2.70" fill="#5c2670" stroke="none" stroke-width="0" rx="0"/>
<line x1="217.40" y1="353.00" x2="217.40" y2="433.00" stroke="#222" stroke-width="1.25"/>
<line x1="216.80" y1="432.40" x2="335.24" y2="432.40" stroke="#222" stroke-width="1.25"/>
<line x1="215.10" y1="432.40" x2="217.40" y2="432.40" stroke="#222" stroke-width="0.9"/>
<text x="211.30" y="434.50" font-size="6.6" text-anchor="end" fill="#222" font-weight="normal" textLength="3.6" lengthAdjust="spacingAndGlyphs" stroke="#222" stroke-width="0.18">0</text>
<line x1="215.10" y1="413.05" x2="217.40" y2="413.05" stroke="#222" stroke-width="0.9"/>
<text x="211.30" y="415.15" font-size="6.6" text-anchor="end" fill="#222" font-weight="normal" textLength="10.7" lengthAdjust="spacingAndGlyphs" stroke="#222" stroke-width="0.18">100</text>
<line x1="215.10" y1="393.70" x2="217.40" y2="393.70" stroke="#222" stroke-width="0.9"/>
<text x="211.30" y="395.80" font-size="6.6" text-anchor="end" fill="#222" font-weight="normal" textLength="10.7" lengthAdjust="spacingAndGlyphs" stroke="#222" stroke-width="0.18">200</text>
<line x1="215.10" y1="374.35" x2="217.40" y2="374.35" stroke="#222" stroke-width="0.9"/>
<text x="211.30" y="376.45" font-size="6.6" text-anchor="end" fill="#222" font-weight="normal" textLength="10.7" lengthAdjust="spacingAndGlyphs" stroke="#222" stroke-width="0.18">300</text>
<line x1="215.10" y1="355.00" x2="217.40" y2="355.00" stroke="#222" stroke-width="0.9"/>
<text x="211.30" y="357.10" font-size="6.6" text-anchor="end" fill="#222" font-weight="normal" textLength="10.7" lengthAdjust="spacingAndGlyphs" stroke="#222" stroke-width="0.18">400</text>
<line x1="217.40" y1="432.40" x2="217.40" y2="434.70" stroke="#222" stroke-width="0.9"/>
<text x="217.40" y="444.20" font-size="6.6" text-anchor="middle" fill="#222" font-weight="normal" stroke="#222" stroke-width="0.18">0</text>
<line x1="246.56" y1="432.40" x2="246.56" y2="434.70" stroke="#222" stroke-width="0.9"/>
<text x="246.56" y="444.20" font-size="6.6" text-anchor="middle" fill="#222" font-weight="normal" stroke="#222" stroke-width="0.18">2</text>
<line x1="275.72" y1="432.40" x2="275.72" y2="434.70" stroke="#222" stroke-width="0.9"/>
<text x="275.72" y="444.20" font-size="6.6" text-anchor="middle" fill="#222" font-weight="normal" stroke="#222" stroke-width="0.18">4</text>
<line x1="304.88" y1="432.40" x2="304.88" y2="434.70" stroke="#222" stroke-width="0.9"/>
<text x="304.88" y="444.20" font-size="6.6" text-anchor="middle" fill="#222" font-weight="normal" stroke="#222" stroke-width="0.18">6</text>
<line x1="334.04" y1="432.40" x2="334.04" y2="434.70" stroke="#222" stroke-width="0.9"/>
<text x="334.04" y="444.20" font-size="6.6" text-anchor="middle" fill="#222" font-weight="normal" stroke="#222" stroke-width="0.18">8</text>
<text x="277.10" y="347.10" font-size="8.5" text-anchor="middle" fill="#151515" font-weight="normal" textLength="42.3" lengthAdjust="spacingAndGlyphs" stroke="#151515" stroke-width="0.18">A366+DAC</text>
<text x="275.12" y="455.80" font-size="8.2" text-anchor="middle" fill="#222" font-weight="bold" textLength="43.9" lengthAdjust="spacingAndGlyphs" stroke="#222" stroke-width="0.2">Days of treatment</text>
<text transform="translate(185.40,393.80) rotate(-90)" x="0" y="0" font-size="6.9" text-anchor="middle" fill="#222" font-weight="bold" textLength="41.4" lengthAdjust="spacingAndGlyphs" stroke="#222" stroke-width="0.2">% Tumor volume</text>
<text transform="translate(195.50,393.70) rotate(-90)" x="0" y="0" font-size="6.9" text-anchor="middle" fill="#222" font-weight="bold" textLength="53.7" lengthAdjust="spacingAndGlyphs" stroke="#222" stroke-width="0.2">post 6 days treatment</text>
<text x="351.20" y="177.30" font-size="10.8" text-anchor="start" fill="#000" font-weight="bold">D</text>
<line x1="407.20" y1="195.92" x2="407.20" y2="226.36" stroke="#888" stroke-width="0.8"/>
<line x1="407.20" y1="254.32" x2="407.20" y2="260.64" stroke="#888" stroke-width="0.8"/>
<line x1="405.00" y1="195.92" x2="409.40" y2="195.92" stroke="#888" stroke-width="0.8"/>
<line x1="405.00" y1="260.64" x2="409.40" y2="260.64" stroke="#888" stroke-width="0.8"/>
<rect x="400.40" y="226.36" width="13.60" height="27.96" fill="#e8e8eb" stroke="#dcdce0" stroke-width="0.8" rx="0"/>
<circle cx="405.20" cy="253.42" r="1.05" fill="#c4c4c8"/>
<circle cx="408.70" cy="243.28" r="1.05" fill="#c4c4c8"/>
<circle cx="407.20" cy="232.00" r="1.05" fill="#c4c4c8"/>
<circle cx="406.20" cy="236.51" r="1.05" fill="#c4c4c8"/>
<circle cx="409.20" cy="247.79" r="1.05" fill="#c4c4c8"/>
<circle cx="407.20" cy="260.64" r="1.05" fill="#c4c4c8"/>
<circle cx="405.70" cy="195.92" r="1.05" fill="#c4c4c8"/>
<circle cx="408.20" cy="209.45" r="1.05" fill="#c4c4c8"/>
<circle cx="407.20" cy="226.36" r="1.05" fill="#c4c4c8"/>
<line x1="400.40" y1="243.95" x2="414.00" y2="243.95" stroke="#111" stroke-width="1.1"/>
<line x1="428.00" y1="256.35" x2="428.00" y2="260.19" stroke="#1d4c7c" stroke-width="0.8"/>
<line x1="428.00" y1="271.01" x2="428.00" y2="273.94" stroke="#1d4c7c" stroke-width="0.8"/>
<line x1="425.80" y1="256.35" x2="430.20" y2="256.35" stroke="#1d4c7c" stroke-width="0.8"/>
<line x1="425.80" y1="273.94" x2="430.20" y2="273.94" stroke="#1d4c7c" stroke-width="0.8"/>
<rect x="421.50" y="260.19" width="13.00" height="10.82" fill="#8eb6da" stroke="#78a6d0" stroke-width="0.8" rx="0"/>
<circle cx="425.00" cy="257.26" r="1.05" fill="#1d4c7c"/>
<circle cx="431.00" cy="256.81" r="1.05" fill="#1d4c7c"/>
<circle cx="428.00" cy="256.35" r="1.05" fill="#1d4c7c"/>
<circle cx="426.00" cy="262.44" r="1.05" fill="#1d4c7c"/>
<circle cx="430.00" cy="263.57" r="1.05" fill="#1d4c7c"/>
<circle cx="425.00" cy="266.95" r="1.05" fill="#1d4c7c"/>
<circle cx="431.00" cy="268.08" r="1.05" fill="#1d4c7c"/>
<circle cx="428.00" cy="270.34" r="1.05" fill="#1d4c7c"/>
<circle cx="426.00" cy="272.59" r="1.05" fill="#1d4c7c"/>
<circle cx="430.00" cy="273.49" r="1.05" fill="#1d4c7c"/>
<circle cx="428.00" cy="273.94" r="1.05" fill="#1d4c7c"/>
<line x1="421.50" y1="266.05" x2="434.50" y2="266.05" stroke="#111" stroke-width="1.1"/>
<line x1="448.40" y1="250.04" x2="448.40" y2="257.71" stroke="#8a82c4" stroke-width="0.8"/>
<line x1="448.40" y1="271.91" x2="448.40" y2="273.04" stroke="#8a82c4" stroke-width="0.8"/>
<line x1="446.20" y1="250.04" x2="450.60" y2="250.04" stroke="#8a82c4" stroke-width="0.8"/>
<line x1="446.20" y1="273.04" x2="450.60" y2="273.04" stroke="#8a82c4" stroke-width="0.8"/>
<rect x="441.80" y="257.71" width="13.20" height="14.21" fill="#d2cbec" stroke="#b6acde" stroke-width="0.8" rx="0"/>
<circle cx="448.40" cy="250.04" r="1.05" fill="#8a82c4"/>
<circle cx="450.40" cy="257.71" r="1.05" fill="#8a82c4"/>
<circle cx="446.40" cy="261.31" r="1.05" fill="#8a82c4"/>
<circle cx="451.40" cy="263.57" r="1.05" fill="#8a82c4"/>
<circle cx="445.40" cy="268.08" r="1.05" fill="#8a82c4"/>
<circle cx="448.40" cy="270.34" r="1.05" fill="#8a82c4"/>
<circle cx="451.40" cy="271.91" r="1.05" fill="#8a82c4"/>
<circle cx="445.40" cy="273.04" r="1.05" fill="#8a82c4"/>
<circle cx="449.40" cy="266.95" r="1.05" fill="#8a82c4"/>
<line x1="441.80" y1="265.15" x2="455.00" y2="265.15" stroke="#111" stroke-width="1.1"/>
<line x1="468.90" y1="265.60" x2="468.90" y2="266.95" stroke="#4a1a5c" stroke-width="0.8"/>
<line x1="468.90" y1="277.10" x2="468.90" y2="277.10" stroke="#4a1a5c" stroke-width="0.8"/>
<line x1="466.70" y1="265.60" x2="471.10" y2="265.60" stroke="#4a1a5c" stroke-width="0.8"/>
<line x1="466.70" y1="277.10" x2="471.10" y2="277.10" stroke="#4a1a5c" stroke-width="0.8"/>
<rect x="462.30" y="266.95" width="13.20" height="10.15" fill="#b48cc4" stroke="#9a70b0" stroke-width="0.8" rx="0"/>
<circle cx="465.90" cy="266.28" r="1.05" fill="#4a1a5c"/>
<circle cx="471.90" cy="265.60" r="1.05" fill="#4a1a5c"/>
<circle cx="468.90" cy="266.95" r="1.05" fill="#4a1a5c"/>
<circle cx="466.90" cy="274.39" r="1.05" fill="#4a1a5c"/>
<circle cx="470.90" cy="275.30" r="1.05" fill="#4a1a5c"/>
<circle cx="465.90" cy="276.65" r="1.05" fill="#4a1a5c"/>
<circle cx="471.90" cy="277.10" r="1.05" fill="#4a1a5c"/>
<circle cx="468.90" cy="276.42" r="1.05" fill="#4a1a5c"/>
<line x1="462.30" y1="274.39" x2="475.50" y2="274.39" stroke="#111" stroke-width="1.1"/>
<line x1="393.30" y1="184.80" x2="393.30" y2="277.60" stroke="#222" stroke-width="1.0"/>
<line x1="392.80" y1="277.10" x2="482.70" y2="277.10" stroke="#222" stroke-width="1.0"/>
<line x1="390.90" y1="277.10" x2="393.30" y2="277.10" stroke="#222" stroke-width="0.9"/>
<text x="387.10" y="279.20" font-size="6.6" text-anchor="end" fill="#222" font-weight="normal" textLength="3.6" lengthAdjust="spacingAndGlyphs" stroke="#222" stroke-width="0.18">0</text>
<line x1="390.90" y1="254.55" x2="393.30" y2="254.55" stroke="#222" stroke-width="0.9"/>
<text x="387.10" y="256.65" font-size="6.6" text-anchor="end" fill="#222" font-weight="normal" textLength="10.6" lengthAdjust="spacingAndGlyphs" stroke="#222" stroke-width="0.18">100</text>
<line x1="390.90" y1="232.00" x2="393.30" y2="232.00" stroke="#222" stroke-width="0.9"/>
<text x="387.10" y="234.10" font-size="6.6" text-anchor="end" fill="#222" font-weight="normal" textLength="10.6" lengthAdjust="spacingAndGlyphs" stroke="#222" stroke-width="0.18">200</text>
<line x1="390.90" y1="209.45" x2="393.30" y2="209.45" stroke="#222" stroke-width="0.9"/>
<text x="387.10" y="211.55" font-size="6.6" text-anchor="end" fill="#222" font-weight="normal" textLength="10.6" lengthAdjust="spacingAndGlyphs" stroke="#222" stroke-width="0.18">300</text>
<line x1="390.90" y1="186.90" x2="393.30" y2="186.90" stroke="#222" stroke-width="0.9"/>
<text x="387.10" y="189.00" font-size="6.6" text-anchor="end" fill="#222" font-weight="normal" textLength="10.6" lengthAdjust="spacingAndGlyphs" stroke="#222" stroke-width="0.18">400</text>
<line x1="407.20" y1="277.10" x2="407.20" y2="279.40" stroke="#222" stroke-width="0.9"/>
<line x1="428.00" y1="277.10" x2="428.00" y2="279.40" stroke="#222" stroke-width="0.9"/>
<line x1="448.40" y1="277.10" x2="448.40" y2="279.40" stroke="#222" stroke-width="0.9"/>
<line x1="468.90" y1="277.10" x2="468.90" y2="279.40" stroke="#222" stroke-width="0.9"/>
<text transform="translate(407.10,286.40) rotate(-45)" font-size="6.5" text-anchor="end" fill="#222" textLength="18.6" lengthAdjust="spacingAndGlyphs">Vehicle</text>
<text transform="translate(427.90,286.40) rotate(-45)" font-size="6.5" text-anchor="end" fill="#222" textLength="13.0" lengthAdjust="spacingAndGlyphs">A366</text>
<text transform="translate(448.30,286.40) rotate(-45)" font-size="6.5" text-anchor="end" fill="#222" textLength="12.0" lengthAdjust="spacingAndGlyphs">DAC</text>
<text transform="translate(468.80,286.40) rotate(-45)" font-size="6.5" text-anchor="end" fill="#222" textLength="31.0" lengthAdjust="spacingAndGlyphs">A366+DAC</text>
<text transform="translate(371.40,232.40) rotate(-90)" x="0" y="0" font-size="6.9" text-anchor="middle" fill="#222" font-weight="bold" textLength="41.6" lengthAdjust="spacingAndGlyphs" stroke="#222" stroke-width="0.2">% Tumor volume</text>
<line x1="406.90" y1="172.80" x2="469.50" y2="172.80" stroke="#555" stroke-width="1.1"/>
<text x="438.20" y="173.00" font-size="6.0" text-anchor="middle" fill="#333" font-weight="normal" stroke="#333" stroke-width="0.18">***</text>
<line x1="406.90" y1="183.40" x2="448.90" y2="183.40" stroke="#555" stroke-width="1.1"/>
<text x="427.90" y="183.60" font-size="6.0" text-anchor="middle" fill="#333" font-weight="normal" stroke="#333" stroke-width="0.18">**</text>
<line x1="406.90" y1="192.80" x2="428.00" y2="192.80" stroke="#555" stroke-width="1.1"/>
<text x="417.45" y="193.00" font-size="6.0" text-anchor="middle" fill="#333" font-weight="normal" stroke="#333" stroke-width="0.18">**</text>
<line x1="427.80" y1="234.20" x2="469.50" y2="234.20" stroke="#555" stroke-width="1.1"/>
<text x="448.65" y="234.40" font-size="6.0" text-anchor="middle" fill="#333" font-weight="normal" stroke="#333" stroke-width="0.18">*</text>
<line x1="448.60" y1="244.00" x2="469.50" y2="244.00" stroke="#555" stroke-width="1.1"/>
<text x="459.05" y="244.20" font-size="6.0" text-anchor="middle" fill="#333" font-weight="normal" stroke="#333" stroke-width="0.18">**</text>
<text x="351.40" y="333.10" font-size="10.8" text-anchor="start" fill="#000" font-weight="bold">E</text>
<line x1="393.30" y1="368.80" x2="488.00" y2="368.80" stroke="#f09aaa" stroke-width="0.8"/>
<line x1="407.20" y1="373.37" x2="407.20" y2="379.12" stroke="#555" stroke-width="0.8"/>
<line x1="407.20" y1="400.84" x2="407.20" y2="425.07" stroke="#555" stroke-width="0.8"/>
<line x1="405.00" y1="373.37" x2="409.40" y2="373.37" stroke="#555" stroke-width="0.8"/>
<line x1="405.00" y1="425.07" x2="409.40" y2="425.07" stroke="#555" stroke-width="0.8"/>
<rect x="400.60" y="379.12" width="13.20" height="21.72" fill="#e4e4e7" stroke="#dcdce0" stroke-width="0.8" rx="0"/>
<circle cx="407.20" cy="373.37" r="1.05" fill="#c4c4c8"/>
<circle cx="405.20" cy="381.99" r="1.05" fill="#c4c4c8"/>
<circle cx="409.20" cy="389.17" r="1.05" fill="#c4c4c8"/>
<circle cx="407.20" cy="396.35" r="1.05" fill="#c4c4c8"/>
<circle cx="406.20" cy="405.32" r="1.05" fill="#c4c4c8"/>
<circle cx="408.20" cy="414.30" r="1.05" fill="#c4c4c8"/>
<circle cx="407.20" cy="425.07" r="1.05" fill="#c4c4c8"/>
<line x1="400.60" y1="386.48" x2="413.80" y2="386.48" stroke="#111" stroke-width="1.1"/>
<line x1="428.00" y1="362.42" x2="428.00" y2="364.58" stroke="#1d4c7c" stroke-width="0.8"/>
<line x1="428.00" y1="372.66" x2="428.00" y2="376.78" stroke="#1d4c7c" stroke-width="0.8"/>
<line x1="425.80" y1="362.42" x2="430.20" y2="362.42" stroke="#1d4c7c" stroke-width="0.8"/>
<line x1="425.80" y1="376.78" x2="430.20" y2="376.78" stroke="#1d4c7c" stroke-width="0.8"/>
<rect x="421.40" y="364.58" width="13.20" height="8.08" fill="#9cc4e2" stroke="#84b2d8" stroke-width="0.8" rx="0"/>
<circle cx="428.00" cy="362.42" r="1.05" fill="#1d4c7c"/>
<circle cx="425.00" cy="364.04" r="1.05" fill="#1d4c7c"/>
<circle cx="431.00" cy="365.83" r="1.05" fill="#1d4c7c"/>
<circle cx="426.00" cy="367.63" r="1.05" fill="#1d4c7c"/>
<circle cx="430.00" cy="369.42" r="1.05" fill="#1d4c7c"/>
<circle cx="425.00" cy="371.22" r="1.05" fill="#1d4c7c"/>
<circle cx="431.00" cy="373.01" r="1.05" fill="#1d4c7c"/>
<circle cx="428.00" cy="375.71" r="1.05" fill="#1d4c7c"/>
<circle cx="427.00" cy="376.78" r="1.05" fill="#1d4c7c"/>
<line x1="421.40" y1="368.53" x2="434.60" y2="368.53" stroke="#111" stroke-width="1.1"/>
<line x1="448.40" y1="364.04" x2="448.40" y2="364.94" stroke="#5a5488" stroke-width="0.8"/>
<line x1="448.40" y1="374.27" x2="448.40" y2="381.09" stroke="#5a5488" stroke-width="0.8"/>
<line x1="446.20" y1="364.04" x2="450.60" y2="364.04" stroke="#5a5488" stroke-width="0.8"/>
<line x1="446.20" y1="381.09" x2="450.60" y2="381.09" stroke="#5a5488" stroke-width="0.8"/>
<rect x="441.80" y="364.94" width="13.20" height="9.33" fill="#d2cbec" stroke="#b6acde" stroke-width="0.8" rx="0"/>
<circle cx="448.40" cy="364.40" r="1.05" fill="#8a82c4"/>
<circle cx="445.40" cy="365.83" r="1.05" fill="#8a82c4"/>
<circle cx="451.40" cy="367.63" r="1.05" fill="#8a82c4"/>
<circle cx="448.40" cy="371.22" r="1.05" fill="#8a82c4"/>
<circle cx="446.40" cy="373.01" r="1.05" fill="#8a82c4"/>
<circle cx="450.40" cy="374.81" r="1.05" fill="#8a82c4"/>
<circle cx="448.40" cy="381.09" r="1.05" fill="#8a82c4"/>
<line x1="441.80" y1="369.60" x2="455.00" y2="369.60" stroke="#111" stroke-width="1.1"/>
<line x1="468.90" y1="359.91" x2="468.90" y2="360.45" stroke="#4a1a5c" stroke-width="0.8"/>
<line x1="468.90" y1="367.99" x2="468.90" y2="367.99" stroke="#4a1a5c" stroke-width="0.8"/>
<line x1="466.70" y1="359.91" x2="471.10" y2="359.91" stroke="#4a1a5c" stroke-width="0.8"/>
<line x1="466.70" y1="367.99" x2="471.10" y2="367.99" stroke="#4a1a5c" stroke-width="0.8"/>
<rect x="462.30" y="360.45" width="13.20" height="7.54" fill="#c4a8dc" stroke="#aa8cc8" stroke-width="0.8" rx="0"/>
<circle cx="464.40" cy="360.45" r="1.05" fill="#3a1450"/>
<circle cx="467.40" cy="360.09" r="1.05" fill="#3a1450"/>
<circle cx="470.40" cy="360.27" r="1.05" fill="#3a1450"/>
<circle cx="473.40" cy="360.45" r="1.05" fill="#3a1450"/>
<circle cx="465.90" cy="361.89" r="1.05" fill="#3a1450"/>
<circle cx="468.90" cy="362.60" r="1.05" fill="#3a1450"/>
<circle cx="471.90" cy="361.89" r="1.05" fill="#3a1450"/>
<circle cx="467.90" cy="367.27" r="1.05" fill="#3a1450"/>
<circle cx="469.90" cy="367.63" r="1.05" fill="#3a1450"/>
<line x1="462.30" y1="361.17" x2="475.50" y2="361.17" stroke="#111" stroke-width="1.1"/>
<line x1="393.30" y1="378.40" x2="488.00" y2="378.40" stroke="#222" stroke-width="1.0"/>
<line x1="393.30" y1="340.40" x2="393.30" y2="432.75" stroke="#222" stroke-width="1.0"/>
<line x1="392.80" y1="432.25" x2="483.90" y2="432.25" stroke="#222" stroke-width="1.0"/>
<line x1="390.90" y1="432.25" x2="393.30" y2="432.25" stroke="#222" stroke-width="0.9"/>
<text x="387.20" y="434.35" font-size="6.6" text-anchor="end" fill="#222" font-weight="normal" textLength="14.2" lengthAdjust="spacingAndGlyphs" stroke="#222" stroke-width="0.18">&#8722;300</text>
<line x1="390.90" y1="414.30" x2="393.30" y2="414.30" stroke="#222" stroke-width="0.9"/>
<text x="387.20" y="416.40" font-size="6.6" text-anchor="end" fill="#222" font-weight="normal" textLength="14.2" lengthAdjust="spacingAndGlyphs" stroke="#222" stroke-width="0.18">&#8722;200</text>
<line x1="390.90" y1="396.35" x2="393.30" y2="396.35" stroke="#222" stroke-width="0.9"/>
<text x="387.20" y="398.45" font-size="6.6" text-anchor="end" fill="#222" font-weight="normal" textLength="14.2" lengthAdjust="spacingAndGlyphs" stroke="#222" stroke-width="0.18">&#8722;100</text>
<line x1="390.90" y1="378.40" x2="393.30" y2="378.40" stroke="#222" stroke-width="0.9"/>
<text x="387.20" y="380.50" font-size="6.6" text-anchor="end" fill="#222" font-weight="normal" textLength="3.6" lengthAdjust="spacingAndGlyphs" stroke="#222" stroke-width="0.18">0</text>
<line x1="390.90" y1="360.45" x2="393.30" y2="360.45" stroke="#222" stroke-width="0.9"/>
<text x="387.20" y="362.55" font-size="6.6" text-anchor="end" fill="#222" font-weight="normal" textLength="10.6" lengthAdjust="spacingAndGlyphs" stroke="#222" stroke-width="0.18">100</text>
<line x1="390.90" y1="342.50" x2="393.30" y2="342.50" stroke="#222" stroke-width="0.9"/>
<text x="387.20" y="344.60" font-size="6.6" text-anchor="end" fill="#222" font-weight="normal" textLength="10.6" lengthAdjust="spacingAndGlyphs" stroke="#222" stroke-width="0.18">200</text>
<line x1="407.20" y1="432.25" x2="407.20" y2="434.55" stroke="#222" stroke-width="0.9"/>
<line x1="428.00" y1="432.25" x2="428.00" y2="434.55" stroke="#222" stroke-width="0.9"/>
<line x1="448.40" y1="432.25" x2="448.40" y2="434.55" stroke="#222" stroke-width="0.9"/>
<line x1="468.90" y1="432.25" x2="468.90" y2="434.55" stroke="#222" stroke-width="0.9"/>
<text transform="translate(407.10,441.55) rotate(-45)" font-size="6.5" text-anchor="end" fill="#222" textLength="18.6" lengthAdjust="spacingAndGlyphs">Vehicle</text>
<text transform="translate(427.90,441.55) rotate(-45)" font-size="6.5" text-anchor="end" fill="#222" textLength="13.0" lengthAdjust="spacingAndGlyphs">A366</text>
<text transform="translate(448.30,441.55) rotate(-45)" font-size="6.5" text-anchor="end" fill="#222" textLength="12.0" lengthAdjust="spacingAndGlyphs">DAC</text>
<text transform="translate(468.80,441.55) rotate(-45)" font-size="6.5" text-anchor="end" fill="#222" textLength="31.0" lengthAdjust="spacingAndGlyphs">A366+DAC</text>
<text x="398.80" y="351.90" font-size="6.4" text-anchor="start" fill="#dc4a6a" font-weight="normal" textLength="73.0" lengthAdjust="spacingAndGlyphs" stroke="#dc4a6a" stroke-width="0.18">Bliss Expected Mean: 52.28</text>
<rect x="427.30" y="400.10" width="56.80" height="13.30" fill="#f2fbf2" stroke="#5ab46a" stroke-width="0.8" rx="0"/>
<text x="455.70" y="409.60" font-size="6.3" text-anchor="middle" fill="#4aa862" font-weight="normal" textLength="50.3" lengthAdjust="spacingAndGlyphs" stroke="#4aa862" stroke-width="0.18">Synergy score: 27.3</text>
<text transform="translate(357.00,382.80) rotate(-90)" x="0" y="0" font-size="5.8" text-anchor="middle" fill="#222" font-weight="bold" textLength="41.0" lengthAdjust="spacingAndGlyphs" stroke="#222" stroke-width="0.2">% Tumour inhibition</text>
<text transform="translate(366.20,382.50) rotate(-90)" x="0" y="0" font-size="5.8" text-anchor="middle" fill="#222" font-weight="bold" textLength="56.5" lengthAdjust="spacingAndGlyphs" stroke="#222" stroke-width="0.2">and bliss expected synergy</text>
<text x="6.60" y="488.60" font-size="10.8" text-anchor="start" fill="#000" font-weight="bold">F</text>
<polyline points="45.10,535.83 59.55,532.02 74.00,526.48 88.45,532.71 102.90,525.10 117.35,521.17 131.80,522.79" fill="none" stroke="#e2508c" stroke-width="0.8"/>
<polyline points="45.10,538.71 59.55,535.83 74.00,531.10 88.45,533.87 102.90,529.71 117.35,528.10 131.80,531.10" fill="none" stroke="#e2508c" stroke-width="0.8"/>
<polyline points="45.10,541.94 59.55,538.71 74.00,534.33 88.45,541.60 102.90,538.71 117.35,533.52 131.80,532.25" fill="none" stroke="#e2508c" stroke-width="0.8"/>
<polyline points="45.10,545.06 59.55,541.25 74.00,537.79 88.45,543.91 102.90,540.67 117.35,539.75 131.80,540.67" fill="none" stroke="#e2508c" stroke-width="0.8"/>
<polyline points="45.10,548.41 59.55,545.06 74.00,541.25 88.45,545.52 102.90,545.06 117.35,543.91 131.80,544.60" fill="none" stroke="#e2508c" stroke-width="0.8"/>
<polyline points="45.10,554.06 59.55,548.41 74.00,550.25 88.45,554.75 102.90,551.29 117.35,548.87 131.80,552.21" fill="none" stroke="#e2508c" stroke-width="0.8"/>
<polyline points="45.10,563.18 59.55,556.95 74.00,556.95 88.45,557.41 102.90,554.75 117.35,559.25 131.80,559.25" fill="none" stroke="#e2508c" stroke-width="0.8"/>
<polyline points="45.10,566.29 59.55,560.52 74.00,558.56 88.45,564.68 102.90,564.68 117.35,559.25 131.80,560.52" fill="none" stroke="#e2508c" stroke-width="0.8"/>
<polyline points="45.10,575.29 59.55,568.14 74.00,558.56 88.45,564.68 102.90,564.68 117.35,566.64 131.80,560.52" fill="none" stroke="#e2508c" stroke-width="0.8"/>
<polyline points="45.10,581.64 59.55,579.80 74.00,576.33 88.45,575.29 102.90,573.45 117.35,566.64 131.80,559.25" fill="none" stroke="#e2508c" stroke-width="0.8"/>
<circle cx="45.10" cy="535.83" r="2.2" fill="#d41c78" stroke="#5a1030" stroke-width="0.65"/>
<circle cx="59.55" cy="532.02" r="2.2" fill="#d41c78" stroke="#5a1030" stroke-width="0.65"/>
<circle cx="74.00" cy="526.48" r="2.2" fill="#d41c78" stroke="#5a1030" stroke-width="0.65"/>
<circle cx="88.45" cy="532.71" r="2.2" fill="#d41c78" stroke="#5a1030" stroke-width="0.65"/>
<circle cx="102.90" cy="525.10" r="2.2" fill="#d41c78" stroke="#5a1030" stroke-width="0.65"/>
<circle cx="117.35" cy="521.17" r="2.2" fill="#d41c78" stroke="#5a1030" stroke-width="0.65"/>
<circle cx="131.80" cy="522.79" r="2.2" fill="#d41c78" stroke="#5a1030" stroke-width="0.65"/>
<circle cx="45.10" cy="538.71" r="2.2" fill="#d41c78" stroke="#5a1030" stroke-width="0.65"/>
<circle cx="59.55" cy="535.83" r="2.2" fill="#d41c78" stroke="#5a1030" stroke-width="0.65"/>
<circle cx="74.00" cy="531.10" r="2.2" fill="#d41c78" stroke="#5a1030" stroke-width="0.65"/>
<circle cx="88.45" cy="533.87" r="2.2" fill="#d41c78" stroke="#5a1030" stroke-width="0.65"/>
<circle cx="102.90" cy="529.71" r="2.2" fill="#d41c78" stroke="#5a1030" stroke-width="0.65"/>
<circle cx="117.35" cy="528.10" r="2.2" fill="#d41c78" stroke="#5a1030" stroke-width="0.65"/>
<circle cx="131.80" cy="531.10" r="2.2" fill="#d41c78" stroke="#5a1030" stroke-width="0.65"/>
<circle cx="45.10" cy="541.94" r="2.2" fill="#d41c78" stroke="#5a1030" stroke-width="0.65"/>
<circle cx="59.55" cy="538.71" r="2.2" fill="#d41c78" stroke="#5a1030" stroke-width="0.65"/>
<circle cx="74.00" cy="534.33" r="2.2" fill="#d41c78" stroke="#5a1030" stroke-width="0.65"/>
<circle cx="88.45" cy="541.60" r="2.2" fill="#d41c78" stroke="#5a1030" stroke-width="0.65"/>
<circle cx="102.90" cy="538.71" r="2.2" fill="#d41c78" stroke="#5a1030" stroke-width="0.65"/>
<circle cx="117.35" cy="533.52" r="2.2" fill="#d41c78" stroke="#5a1030" stroke-width="0.65"/>
<circle cx="131.80" cy="532.25" r="2.2" fill="#d41c78" stroke="#5a1030" stroke-width="0.65"/>
<circle cx="45.10" cy="545.06" r="2.2" fill="#d41c78" stroke="#5a1030" stroke-width="0.65"/>
<circle cx="59.55" cy="541.25" r="2.2" fill="#d41c78" stroke="#5a1030" stroke-width="0.65"/>
<circle cx="74.00" cy="537.79" r="2.2" fill="#d41c78" stroke="#5a1030" stroke-width="0.65"/>
<circle cx="88.45" cy="543.91" r="2.2" fill="#d41c78" stroke="#5a1030" stroke-width="0.65"/>
<circle cx="102.90" cy="540.67" r="2.2" fill="#d41c78" stroke="#5a1030" stroke-width="0.65"/>
<circle cx="117.35" cy="539.75" r="2.2" fill="#d41c78" stroke="#5a1030" stroke-width="0.65"/>
<circle cx="131.80" cy="540.67" r="2.2" fill="#d41c78" stroke="#5a1030" stroke-width="0.65"/>
<circle cx="45.10" cy="548.41" r="2.2" fill="#d41c78" stroke="#5a1030" stroke-width="0.65"/>
<circle cx="59.55" cy="545.06" r="2.2" fill="#d41c78" stroke="#5a1030" stroke-width="0.65"/>
<circle cx="74.00" cy="541.25" r="2.2" fill="#d41c78" stroke="#5a1030" stroke-width="0.65"/>
<circle cx="88.45" cy="545.52" r="2.2" fill="#d41c78" stroke="#5a1030" stroke-width="0.65"/>
<circle cx="102.90" cy="545.06" r="2.2" fill="#d41c78" stroke="#5a1030" stroke-width="0.65"/>
<circle cx="117.35" cy="543.91" r="2.2" fill="#d41c78" stroke="#5a1030" stroke-width="0.65"/>
<circle cx="131.80" cy="544.60" r="2.2" fill="#d41c78" stroke="#5a1030" stroke-width="0.65"/>
<circle cx="45.10" cy="554.06" r="2.2" fill="#d41c78" stroke="#5a1030" stroke-width="0.65"/>
<circle cx="59.55" cy="548.41" r="2.2" fill="#d41c78" stroke="#5a1030" stroke-width="0.65"/>
<circle cx="74.00" cy="550.25" r="2.2" fill="#d41c78" stroke="#5a1030" stroke-width="0.65"/>
<circle cx="88.45" cy="554.75" r="2.2" fill="#d41c78" stroke="#5a1030" stroke-width="0.65"/>
<circle cx="102.90" cy="551.29" r="2.2" fill="#d41c78" stroke="#5a1030" stroke-width="0.65"/>
<circle cx="117.35" cy="548.87" r="2.2" fill="#d41c78" stroke="#5a1030" stroke-width="0.65"/>
<circle cx="131.80" cy="552.21" r="2.2" fill="#d41c78" stroke="#5a1030" stroke-width="0.65"/>
<circle cx="45.10" cy="563.18" r="2.2" fill="#d41c78" stroke="#5a1030" stroke-width="0.65"/>
<circle cx="59.55" cy="556.95" r="2.2" fill="#d41c78" stroke="#5a1030" stroke-width="0.65"/>
<circle cx="74.00" cy="556.95" r="2.2" fill="#d41c78" stroke="#5a1030" stroke-width="0.65"/>
<circle cx="88.45" cy="557.41" r="2.2" fill="#d41c78" stroke="#5a1030" stroke-width="0.65"/>
<circle cx="102.90" cy="554.75" r="2.2" fill="#d41c78" stroke="#5a1030" stroke-width="0.65"/>
<circle cx="117.35" cy="559.25" r="2.2" fill="#d41c78" stroke="#5a1030" stroke-width="0.65"/>
<circle cx="131.80" cy="559.25" r="2.2" fill="#d41c78" stroke="#5a1030" stroke-width="0.65"/>
<circle cx="45.10" cy="566.29" r="2.2" fill="#d41c78" stroke="#5a1030" stroke-width="0.65"/>
<circle cx="59.55" cy="560.52" r="2.2" fill="#d41c78" stroke="#5a1030" stroke-width="0.65"/>
<circle cx="74.00" cy="558.56" r="2.2" fill="#d41c78" stroke="#5a1030" stroke-width="0.65"/>
<circle cx="88.45" cy="564.68" r="2.2" fill="#d41c78" stroke="#5a1030" stroke-width="0.65"/>
<circle cx="102.90" cy="564.68" r="2.2" fill="#d41c78" stroke="#5a1030" stroke-width="0.65"/>
<circle cx="117.35" cy="559.25" r="2.2" fill="#d41c78" stroke="#5a1030" stroke-width="0.65"/>
<circle cx="131.80" cy="560.52" r="2.2" fill="#d41c78" stroke="#5a1030" stroke-width="0.65"/>
<circle cx="45.10" cy="575.29" r="2.2" fill="#d41c78" stroke="#5a1030" stroke-width="0.65"/>
<circle cx="59.55" cy="568.14" r="2.2" fill="#d41c78" stroke="#5a1030" stroke-width="0.65"/>
<circle cx="74.00" cy="558.56" r="2.2" fill="#d41c78" stroke="#5a1030" stroke-width="0.65"/>
<circle cx="88.45" cy="564.68" r="2.2" fill="#d41c78" stroke="#5a1030" stroke-width="0.65"/>
<circle cx="102.90" cy="564.68" r="2.2" fill="#d41c78" stroke="#5a1030" stroke-width="0.65"/>
<circle cx="117.35" cy="566.64" r="2.2" fill="#d41c78" stroke="#5a1030" stroke-width="0.65"/>
<circle cx="131.80" cy="560.52" r="2.2" fill="#d41c78" stroke="#5a1030" stroke-width="0.65"/>
<circle cx="45.10" cy="581.64" r="2.2" fill="#d41c78" stroke="#5a1030" stroke-width="0.65"/>
<circle cx="59.55" cy="579.80" r="2.2" fill="#d41c78" stroke="#5a1030" stroke-width="0.65"/>
<circle cx="74.00" cy="576.33" r="2.2" fill="#d41c78" stroke="#5a1030" stroke-width="0.65"/>
<circle cx="88.45" cy="575.29" r="2.2" fill="#d41c78" stroke="#5a1030" stroke-width="0.65"/>
<circle cx="102.90" cy="573.45" r="2.2" fill="#d41c78" stroke="#5a1030" stroke-width="0.65"/>
<circle cx="117.35" cy="566.64" r="2.2" fill="#d41c78" stroke="#5a1030" stroke-width="0.65"/>
<circle cx="131.80" cy="559.25" r="2.2" fill="#d41c78" stroke="#5a1030" stroke-width="0.65"/>
<line x1="45.10" y1="494.80" x2="45.10" y2="613.40" stroke="#222" stroke-width="1.25"/>
<line x1="44.50" y1="612.80" x2="161.90" y2="612.80" stroke="#222" stroke-width="1.25"/>
<line x1="42.80" y1="612.80" x2="45.10" y2="612.80" stroke="#222" stroke-width="0.9"/>
<text x="39.00" y="614.90" font-size="6.6" text-anchor="end" fill="#222" font-weight="normal" textLength="7.2" lengthAdjust="spacingAndGlyphs" stroke="#222" stroke-width="0.18">14</text>
<line x1="42.80" y1="589.72" x2="45.10" y2="589.72" stroke="#222" stroke-width="0.9"/>
<text x="39.00" y="591.82" font-size="6.6" text-anchor="end" fill="#222" font-weight="normal" textLength="7.2" lengthAdjust="spacingAndGlyphs" stroke="#222" stroke-width="0.18">16</text>
<line x1="42.80" y1="566.64" x2="45.10" y2="566.64" stroke="#222" stroke-width="0.9"/>
<text x="39.00" y="568.74" font-size="6.6" text-anchor="end" fill="#222" font-weight="normal" textLength="7.2" lengthAdjust="spacingAndGlyphs" stroke="#222" stroke-width="0.18">18</text>
<line x1="42.80" y1="543.56" x2="45.10" y2="543.56" stroke="#222" stroke-width="0.9"/>
<text x="39.00" y="545.66" font-size="6.6" text-anchor="end" fill="#222" font-weight="normal" textLength="7.2" lengthAdjust="spacingAndGlyphs" stroke="#222" stroke-width="0.18">20</text>
<line x1="42.80" y1="520.48" x2="45.10" y2="520.48" stroke="#222" stroke-width="0.9"/>
<text x="39.00" y="522.58" font-size="6.6" text-anchor="end" fill="#222" font-weight="normal" textLength="7.2" lengthAdjust="spacingAndGlyphs" stroke="#222" stroke-width="0.18">22</text>
<line x1="42.80" y1="497.40" x2="45.10" y2="497.40" stroke="#222" stroke-width="0.9"/>
<text x="39.00" y="499.50" font-size="6.6" text-anchor="end" fill="#222" font-weight="normal" textLength="7.2" lengthAdjust="spacingAndGlyphs" stroke="#222" stroke-width="0.18">24</text>
<line x1="45.10" y1="612.80" x2="45.10" y2="615.10" stroke="#222" stroke-width="0.9"/>
<text x="45.10" y="624.60" font-size="6.6" text-anchor="middle" fill="#222" font-weight="normal" stroke="#222" stroke-width="0.18">0</text>
<line x1="74.00" y1="612.80" x2="74.00" y2="615.10" stroke="#222" stroke-width="0.9"/>
<text x="74.00" y="624.60" font-size="6.6" text-anchor="middle" fill="#222" font-weight="normal" stroke="#222" stroke-width="0.18">2</text>
<line x1="102.90" y1="612.80" x2="102.90" y2="615.10" stroke="#222" stroke-width="0.9"/>
<text x="102.90" y="624.60" font-size="6.6" text-anchor="middle" fill="#222" font-weight="normal" stroke="#222" stroke-width="0.18">4</text>
<line x1="131.80" y1="612.80" x2="131.80" y2="615.10" stroke="#222" stroke-width="0.9"/>
<text x="131.80" y="624.60" font-size="6.6" text-anchor="middle" fill="#222" font-weight="normal" stroke="#222" stroke-width="0.18">6</text>
<line x1="160.70" y1="612.80" x2="160.70" y2="615.10" stroke="#222" stroke-width="0.9"/>
<text x="160.70" y="624.60" font-size="6.6" text-anchor="middle" fill="#222" font-weight="normal" stroke="#222" stroke-width="0.18">8</text>
<text x="102.90" y="635.60" font-size="8.2" text-anchor="middle" fill="#222" font-weight="bold" textLength="43.9" lengthAdjust="spacingAndGlyphs" stroke="#222" stroke-width="0.2">Days of treatment</text>
<text transform="translate(14.60,554.20) rotate(-90)" x="0" y="0" font-size="6.9" text-anchor="middle" fill="#222" font-weight="bold" textLength="42.3" lengthAdjust="spacingAndGlyphs" stroke="#222" stroke-width="0.2">Body weight (g)</text>
<text transform="translate(23.30,555.00) rotate(-90)" x="0" y="0" font-size="6.9" text-anchor="middle" fill="#222" font-weight="bold" textLength="31.4" lengthAdjust="spacingAndGlyphs" stroke="#222" stroke-width="0.2">(A366+DAC)</text>
<rect x="0.5" y="0.5" width="519" height="644" fill="none" stroke="#555" stroke-width="1.1"/>
</svg></body></html>
